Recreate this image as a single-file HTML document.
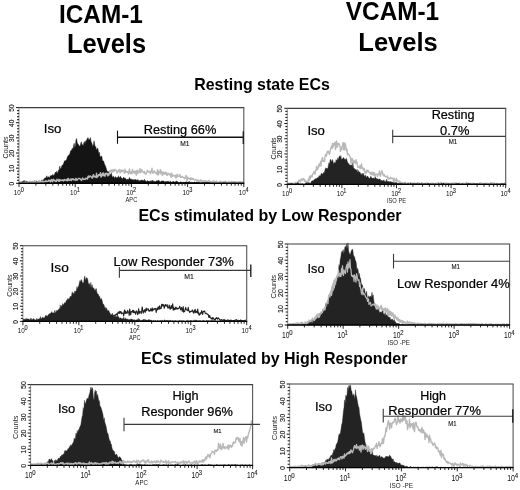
<!DOCTYPE html>
<html><head><meta charset="utf-8"><style>
html,body{margin:0;padding:0;background:#fff;}
body{width:520px;height:490px;overflow:hidden;}
svg{display:block;font-family:"Liberation Sans", sans-serif;filter:grayscale(1) blur(0.3px);}
</style></head><body>
<svg width="520" height="490" viewBox="0 0 520 490">
<rect width="520" height="490" fill="#fff"/>
<text transform="translate(58.97,22.50) scale(1,1.086)" font-size="24.36" font-weight="bold" fill="#000" >ICAM-1</text>
<text transform="translate(66.90,53.40) scale(1,1.056)" font-size="25.45" font-weight="bold" fill="#000" >Levels</text>
<text transform="translate(345.83,19.60) scale(1,1.086)" font-size="24.35" font-weight="bold" fill="#000" >VCAM-1</text>
<text transform="translate(358.29,50.60) scale(1,1.035)" font-size="25.55" font-weight="bold" fill="#000" >Levels</text>
<text transform="translate(194.23,89.70) scale(1,1.021)" font-size="15.95" font-weight="bold" fill="#000" >Resting state ECs</text>
<text transform="translate(138.43,220.90) scale(1,1.016)" font-size="16.02" font-weight="bold" fill="#000" >ECs stimulated by Low Responder</text>
<text transform="translate(141.03,363.70) scale(1,1.055)" font-size="15.99" font-weight="bold" fill="#000" >ECs stimulated by High Responder</text>
<path d="M19.00,183.30 L19.00,182.64 L19.60,182.10 L20.20,181.76 L20.80,182.48 L21.40,181.52 L22.00,181.74 L22.60,181.46 L23.20,181.46 L23.80,180.52 L24.40,181.03 L25.00,180.57 L25.60,181.67 L26.20,181.18 L26.80,181.51 L27.40,181.63 L28.00,181.46 L28.60,183.19 L29.20,181.26 L29.80,181.65 L30.40,182.09 L31.00,181.62 L31.60,182.34 L32.20,180.89 L32.80,182.50 L33.40,181.18 L34.00,181.98 L34.60,180.53 L35.20,182.63 L35.80,181.03 L36.40,180.97 L37.00,181.15 L37.60,181.44 L38.20,181.08 L38.80,181.64 L39.40,182.50 L40.00,181.69 L40.60,181.42 L41.20,181.65 L41.80,179.71 L42.40,180.67 L43.00,181.27 L43.60,179.54 L44.20,178.57 L44.80,178.23 L45.40,177.68 L46.00,178.15 L46.60,175.75 L47.20,178.29 L47.80,176.51 L48.40,176.93 L49.00,176.91 L49.60,178.14 L50.20,175.54 L50.80,176.18 L51.40,175.41 L52.00,175.58 L52.60,174.62 L53.20,174.76 L53.80,175.92 L54.40,174.50 L55.00,173.12 L55.60,172.03 L56.20,173.31 L56.80,170.89 L57.40,173.46 L58.00,171.97 L58.60,170.11 L59.20,169.70 L59.80,165.96 L60.40,168.98 L61.00,168.28 L61.60,166.60 L62.20,164.87 L62.80,165.47 L63.40,163.79 L64.00,162.37 L64.60,160.70 L65.20,160.64 L65.80,160.27 L66.40,160.16 L67.00,158.08 L67.60,156.50 L68.20,155.29 L68.80,155.67 L69.40,154.51 L70.00,153.28 L70.60,150.72 L71.20,150.17 L71.80,150.02 L72.40,147.94 L73.00,149.90 L73.60,145.15 L74.20,143.23 L74.80,147.79 L75.40,145.43 L76.00,139.71 L76.60,138.54 L77.20,142.56 L77.80,143.75 L78.40,144.43 L79.00,145.38 L79.60,146.36 L80.20,145.82 L80.80,142.93 L81.40,141.72 L82.00,144.90 L82.60,144.59 L83.20,146.05 L83.80,142.81 L84.40,141.38 L85.00,144.01 L85.60,140.89 L86.20,140.99 L86.80,139.44 L87.40,138.44 L88.00,137.54 L88.60,139.39 L89.20,139.86 L89.80,138.95 L90.40,137.53 L91.00,141.15 L91.60,142.62 L92.20,144.29 L92.80,146.45 L93.40,144.80 L94.00,140.78 L94.60,143.59 L95.20,147.40 L95.80,146.36 L96.40,149.93 L97.00,149.05 L97.60,147.89 L98.20,149.97 L98.80,153.47 L99.40,152.13 L100.00,156.22 L100.60,157.01 L101.20,156.32 L101.80,156.01 L102.40,160.38 L103.00,160.73 L103.60,161.05 L104.20,163.09 L104.80,164.86 L105.40,165.77 L106.00,167.42 L106.60,169.50 L107.20,171.63 L107.80,171.34 L108.40,171.61 L109.00,172.48 L109.60,174.29 L110.20,173.95 L110.80,174.89 L111.40,172.63 L112.00,176.51 L112.60,177.29 L113.20,175.88 L113.80,176.88 L114.40,178.44 L115.00,176.72 L115.60,176.82 L116.20,177.71 L116.80,177.78 L117.40,177.37 L118.00,177.70 L118.60,175.80 L119.20,178.01 L119.80,177.36 L120.40,176.28 L121.00,177.50 L121.60,177.96 L122.20,179.13 L122.80,178.27 L123.40,177.47 L124.00,177.34 L124.60,178.46 L125.20,177.89 L125.80,178.82 L126.40,179.64 L127.00,179.28 L127.60,179.58 L128.20,178.87 L128.80,180.26 L129.40,177.34 L130.00,178.99 L130.60,179.16 L131.20,178.76 L131.80,179.90 L132.40,179.82 L133.00,179.02 L133.60,180.49 L134.20,179.86 L134.80,179.65 L135.40,179.60 L136.00,179.51 L136.60,180.51 L137.20,179.54 L137.80,180.21 L138.40,179.71 L139.00,181.45 L139.60,180.53 L140.20,180.28 L140.80,180.64 L141.40,180.08 L142.00,180.09 L142.60,180.37 L143.20,180.78 L143.80,180.27 L144.40,179.20 L145.00,180.96 L145.60,180.85 L146.20,181.00 L146.80,182.23 L147.40,180.40 L148.00,181.32 L148.60,181.00 L149.20,181.62 L149.80,181.27 L150.40,180.64 L151.00,181.65 L151.60,181.10 L152.20,180.01 L152.80,181.33 L153.40,180.80 L154.00,182.19 L154.60,181.12 L155.20,181.39 L155.80,181.63 L156.40,180.73 L157.00,180.89 L157.60,180.79 L158.20,180.16 L158.80,180.24 L159.40,180.85 L160.00,182.23 L160.60,181.68 L161.20,181.07 L161.80,181.02 L162.40,181.18 L163.00,180.57 L163.60,181.37 L164.20,181.08 L164.80,182.42 L165.40,181.59 L166.00,181.56 L166.60,181.44 L167.20,181.59 L167.80,181.33 L168.40,181.13 L169.00,181.75 L169.60,182.05 L170.20,181.24 L170.80,181.45 L171.40,182.43 L172.00,181.87 L172.60,181.77 L173.20,181.44 L173.80,181.51 L174.40,182.07 L175.00,181.69 L175.60,181.67 L176.20,181.58 L176.80,180.77 L177.40,181.88 L178.00,181.68 L178.60,182.39 L179.20,183.30 L179.80,182.09 L180.40,181.77 L181.00,182.05 L181.60,182.18 L182.20,182.21 L182.80,182.54 L183.40,182.20 L184.00,182.09 L184.60,182.35 L185.20,181.90 L185.80,182.08 L186.40,181.82 L187.00,181.72 L187.60,182.61 L188.20,181.61 L188.80,182.51 L189.40,181.35 L190.00,182.68 L190.60,182.09 L191.20,182.41 L191.80,182.24 L192.40,182.52 L193.00,182.36 L193.60,182.65 L194.20,181.86 L194.80,181.94 L195.40,182.63 L196.00,182.33 L196.60,181.90 L197.20,182.22 L197.80,182.29 L198.40,181.73 L199.00,182.63 L199.60,181.96 L200.20,182.77 L200.80,183.17 L201.40,182.55 L202.00,182.30 L202.60,182.57 L203.20,182.46 L203.80,182.39 L204.40,182.50 L205.00,181.35 L205.60,182.53 L206.20,181.63 L206.80,182.25 L207.40,181.57 L208.00,182.26 L208.60,182.91 L209.20,181.37 L209.80,181.51 L210.40,182.62 L211.00,181.87 L211.60,182.25 L212.20,182.95 L212.80,182.30 L213.40,182.84 L214.00,182.93 L214.60,183.30 L215.20,183.02 L215.80,182.45 L216.40,183.04 L217.00,182.76 L217.60,182.60 L218.20,183.15 L218.80,182.67 L219.40,182.75 L220.00,182.06 L220.60,182.39 L221.20,182.17 L221.80,182.80 L222.40,182.49 L223.00,181.83 L223.60,181.84 L224.20,182.54 L224.80,182.27 L225.40,182.48 L226.00,182.66 L226.60,182.17 L227.20,182.42 L227.80,182.66 L228.40,183.21 L229.00,182.64 L229.60,183.18 L230.20,183.07 L230.80,182.92 L231.40,181.60 L232.00,182.68 L232.60,182.97 L233.20,182.51 L233.80,182.13 L234.40,182.87 L235.00,182.51 L235.60,182.27 L236.20,182.60 L236.80,182.77 L237.40,183.30 L238.00,183.30 L238.60,181.82 L239.20,182.85 L239.80,182.38 L240.40,181.96 L241.00,182.55 L241.60,183.26 L242.20,182.96 L242.80,181.99 L242.80,183.30 Z" fill="#141414" stroke="#141414" stroke-width="0.4"/>
<path d="M19.00,182.02 L19.50,182.26 L20.00,182.85 L20.50,182.80 L21.00,181.93 L21.50,181.75 L22.00,182.87 L22.50,183.30 L23.00,183.23 L23.50,183.07 L24.00,182.33 L24.50,182.32 L25.00,183.30 L25.50,182.09 L26.00,183.24 L26.50,182.76 L27.00,182.64 L27.50,181.93 L28.00,182.08 L28.50,182.97 L29.00,181.94 L29.50,181.57 L30.00,182.09 L30.50,181.29 L31.00,182.71 L31.50,182.00 L32.00,181.46 L32.50,182.43 L33.00,181.89 L33.50,181.95 L34.00,182.95 L34.50,181.59 L35.00,182.31 L35.50,181.59 L36.00,182.61 L36.50,182.59 L37.00,182.33 L37.50,181.79 L38.00,182.48 L38.50,182.15 L39.00,180.67 L39.50,180.63 L40.00,182.87 L40.50,181.66 L41.00,181.15 L41.50,182.10 L42.00,181.47 L42.50,181.63 L43.00,182.38 L43.50,183.30 L44.00,181.34 L44.50,181.38 L45.00,181.48 L45.50,181.74 L46.00,180.53 L46.50,181.75 L47.00,181.41 L47.50,181.35 L48.00,181.46 L48.50,180.11 L49.00,180.76 L49.50,181.09 L50.00,180.22 L50.50,182.23 L51.00,180.58 L51.50,179.49 L52.00,179.86 L52.50,181.97 L53.00,180.56 L53.50,179.24 L54.00,180.60 L54.50,180.49 L55.00,180.24 L55.50,181.71 L56.00,181.33 L56.50,181.42 L57.00,179.21 L57.50,180.31 L58.00,180.24 L58.50,181.24 L59.00,179.32 L59.50,181.18 L60.00,179.84 L60.50,180.55 L61.00,180.09 L61.50,180.50 L62.00,180.11 L62.50,179.86 L63.00,180.69 L63.50,181.01 L64.00,179.69 L64.50,179.51 L65.00,180.30 L65.50,180.07 L66.00,179.73 L66.50,180.44 L67.00,180.78 L67.50,178.69 L68.00,180.55 L68.50,178.36 L69.00,180.08 L69.50,180.31 L70.00,180.19 L70.50,179.53 L71.00,178.83 L71.50,180.60 L72.00,179.12 L72.50,179.31 L73.00,178.81 L73.50,179.50 L74.00,179.94 L74.50,179.50 L75.00,179.41 L75.50,180.23 L76.00,178.31 L76.50,179.69 L77.00,180.29 L77.50,179.49 L78.00,179.03 L78.50,178.42 L79.00,178.43 L79.50,178.46 L80.00,178.95 L80.50,179.23 L81.00,179.81 L81.50,180.51 L82.00,179.54 L82.50,178.06 L83.00,178.58 L83.50,179.35 L84.00,179.47 L84.50,179.24 L85.00,178.89 L85.50,179.30 L86.00,178.04 L86.50,178.47 L87.00,178.42 L87.50,179.12 L88.00,176.46 L88.50,175.95 L89.00,177.43 L89.50,176.24 L90.00,176.22 L90.50,176.04 L91.00,176.47 L91.50,177.72 L92.00,177.37 L92.50,178.04 L93.00,175.60 L93.50,174.70 L94.00,176.50 L94.50,176.75 L95.00,176.50 L95.50,176.90 L96.00,177.50 L96.50,173.23 L97.00,177.51 L97.50,175.93 L98.00,176.53 L98.50,174.78 L99.00,175.26 L99.50,174.36 L100.00,175.47 L100.50,172.60 L101.00,177.17 L101.50,176.07 L102.00,174.80 L102.50,173.34 L103.00,175.81 L103.50,172.97 L104.00,175.36 L104.50,174.29 L105.00,176.46 L105.50,173.77 L106.00,173.17 L106.50,173.95 L107.00,173.25 L107.50,175.55 L108.00,175.84 L108.50,173.78 L109.00,175.11 L109.50,172.04 L110.00,170.43 L110.50,170.65 L111.00,171.38 L111.50,172.61 L112.00,169.37 L112.50,171.70 L113.00,171.31 L113.50,169.94 L114.00,171.70 L114.50,169.83 L115.00,169.29 L115.50,170.09 L116.00,170.19 L116.50,171.16 L117.00,172.98 L117.50,171.88 L118.00,170.90 L118.50,171.31 L119.00,169.47 L119.50,169.57 L120.00,172.65 L120.50,172.44 L121.00,169.97 L121.50,170.36 L122.00,171.76 L122.50,170.83 L123.00,170.08 L123.50,170.93 L124.00,171.44 L124.50,173.21 L125.00,169.13 L125.50,172.21 L126.00,172.21 L126.50,171.46 L127.00,171.40 L127.50,172.50 L128.00,171.68 L128.50,174.12 L129.00,170.93 L129.50,168.99 L130.00,172.75 L130.50,173.54 L131.00,173.44 L131.50,171.53 L132.00,173.81 L132.50,169.55 L133.00,172.23 L133.50,172.54 L134.00,171.28 L134.50,173.05 L135.00,170.93 L135.50,173.72 L136.00,171.38 L136.50,175.12 L137.00,170.28 L137.50,173.28 L138.00,170.35 L138.50,172.68 L139.00,172.34 L139.50,172.32 L140.00,168.56 L140.50,172.66 L141.00,172.46 L141.50,169.71 L142.00,170.47 L142.50,171.20 L143.00,172.14 L143.50,172.52 L144.00,172.92 L144.50,171.52 L145.00,173.81 L145.50,173.77 L146.00,174.12 L146.50,172.69 L147.00,171.44 L147.50,170.10 L148.00,171.78 L148.50,172.02 L149.00,172.01 L149.50,172.41 L150.00,171.13 L150.50,173.73 L151.00,171.30 L151.50,170.54 L152.00,168.10 L152.50,173.09 L153.00,172.93 L153.50,172.66 L154.00,171.46 L154.50,170.79 L155.00,172.59 L155.50,172.74 L156.00,173.17 L156.50,172.81 L157.00,174.68 L157.50,169.69 L158.00,172.18 L158.50,174.92 L159.00,171.21 L159.50,172.74 L160.00,172.90 L160.50,169.58 L161.00,173.89 L161.50,171.67 L162.00,172.69 L162.50,175.38 L163.00,171.86 L163.50,174.03 L164.00,172.48 L164.50,173.92 L165.00,174.51 L165.50,172.31 L166.00,172.68 L166.50,172.62 L167.00,175.42 L167.50,175.30 L168.00,173.48 L168.50,173.34 L169.00,173.77 L169.50,174.93 L170.00,173.98 L170.50,175.01 L171.00,177.41 L171.50,173.06 L172.00,174.17 L172.50,176.32 L173.00,175.56 L173.50,175.26 L174.00,175.82 L174.50,175.46 L175.00,176.15 L175.50,177.68 L176.00,174.89 L176.50,178.01 L177.00,176.57 L177.50,174.17 L178.00,176.37 L178.50,176.33 L179.00,176.14 L179.50,176.38 L180.00,174.50 L180.50,177.10 L181.00,177.40 L181.50,176.76 L182.00,177.14 L182.50,176.28 L183.00,177.50 L183.50,177.59 L184.00,177.65 L184.50,178.81 L185.00,178.54 L185.50,177.09 L186.00,175.48 L186.50,176.29 L187.00,180.53 L187.50,178.86 L188.00,177.11 L188.50,178.72 L189.00,178.40 L189.50,178.70 L190.00,179.55 L190.50,177.61 L191.00,179.55 L191.50,178.28 L192.00,178.91 L192.50,179.54 L193.00,178.32 L193.50,178.97 L194.00,179.54 L194.50,179.60 L195.00,180.14 L195.50,179.56 L196.00,179.79 L196.50,180.41 L197.00,181.22 L197.50,180.46 L198.00,179.92 L198.50,180.52 L199.00,181.30 L199.50,180.68 L200.00,182.11 L200.50,179.61 L201.00,180.78 L201.50,180.93 L202.00,181.76 L202.50,180.65 L203.00,180.79 L203.50,181.39 L204.00,181.76 L204.50,181.27 L205.00,180.80 L205.50,180.76 L206.00,181.69 L206.50,180.87 L207.00,181.79 L207.50,181.45 L208.00,181.09 L208.50,180.78 L209.00,180.35 L209.50,181.91 L210.00,181.28 L210.50,181.50 L211.00,182.29 L211.50,181.72 L212.00,182.28 L212.50,181.41 L213.00,181.05 L213.50,181.84 L214.00,181.14 L214.50,181.05 L215.00,182.46 L215.50,181.77 L216.00,182.16 L216.50,180.96 L217.00,182.15 L217.50,182.45 L218.00,182.44 L218.50,182.07 L219.00,182.31 L219.50,181.57 L220.00,182.56 L220.50,181.70 L221.00,181.17 L221.50,182.84 L222.00,183.11 L222.50,183.25 L223.00,181.85 L223.50,181.50 L224.00,181.42 L224.50,181.39 L225.00,181.94 L225.50,181.21 L226.00,182.16 L226.50,181.71 L227.00,182.85 L227.50,183.16 L228.00,182.53 L228.50,181.92 L229.00,181.41 L229.50,181.95 L230.00,183.30 L230.50,182.85 L231.00,181.69 L231.50,181.31 L232.00,182.37 L232.50,182.31 L233.00,181.64 L233.50,181.80 L234.00,181.84 L234.50,181.93 L235.00,181.61 L235.50,181.94 L236.00,182.66 L236.50,182.18 L237.00,182.05 L237.50,182.46 L238.00,182.01 L238.50,182.51 L239.00,182.55 L239.50,181.64 L240.00,182.22 L240.50,182.99 L241.00,181.62 L241.50,182.32 L242.00,183.30 L242.50,182.47 L243.00,181.75" fill="none" stroke="#b8b8b8" stroke-width="1.4" stroke-linejoin="round"/>
<path d="M287.50,184.22 L288.00,183.06 L288.50,184.11 L289.00,183.38 L289.50,183.16 L290.00,183.82 L290.50,183.20 L291.00,183.26 L291.50,183.40 L292.00,184.00 L292.50,183.44 L293.00,183.65 L293.50,182.95 L294.00,183.50 L294.50,183.98 L295.00,184.25 L295.50,182.54 L296.00,182.93 L296.50,182.84 L297.00,182.58 L297.50,182.06 L298.00,183.13 L298.50,181.18 L299.00,180.05 L299.50,181.82 L300.00,180.81 L300.50,181.72 L301.00,179.58 L301.50,179.10 L302.00,180.47 L302.50,179.95 L303.00,178.52 L303.50,179.17 L304.00,179.04 L304.50,181.31 L305.00,179.99 L305.50,181.74 L306.00,181.30 L306.50,181.83 L307.00,182.16 L307.50,182.79 L308.00,180.54 L308.50,179.02 L309.00,180.71 L309.50,176.26 L310.00,178.97 L310.50,177.69 L311.00,175.64 L311.50,175.82 L312.00,177.09 L312.50,174.11 L313.00,173.71 L313.50,173.08 L314.00,171.61 L314.50,173.01 L315.00,174.16 L315.50,170.13 L316.00,170.42 L316.50,166.57 L317.00,169.75 L317.50,169.16 L318.00,168.81 L318.50,164.78 L319.00,166.79 L319.50,163.97 L320.00,164.80 L320.50,161.77 L321.00,166.07 L321.50,160.03 L322.00,160.59 L322.50,157.41 L323.00,161.33 L323.50,160.57 L324.00,161.30 L324.50,161.35 L325.00,156.76 L325.50,154.80 L326.00,154.34 L326.50,155.92 L327.00,151.90 L327.50,152.68 L328.00,150.88 L328.50,151.90 L329.00,153.63 L329.50,154.23 L330.00,151.69 L330.50,149.23 L331.00,148.03 L331.50,146.05 L332.00,148.51 L332.50,143.22 L333.00,147.42 L333.50,143.60 L334.00,144.83 L334.50,144.91 L335.00,142.18 L335.50,149.51 L336.00,146.72 L336.50,140.95 L337.00,144.00 L337.50,147.13 L338.00,143.49 L338.50,144.26 L339.00,143.83 L339.50,144.30 L340.00,146.57 L340.50,151.36 L341.00,148.96 L341.50,149.53 L342.00,146.28 L342.50,145.75 L343.00,142.64 L343.50,149.89 L344.00,142.98 L344.50,149.90 L345.00,143.18 L345.50,144.88 L346.00,147.48 L346.50,151.00 L347.00,149.29 L347.50,154.85 L348.00,153.94 L348.50,154.11 L349.00,154.77 L349.50,155.76 L350.00,156.51 L350.50,158.22 L351.00,163.72 L351.50,158.88 L352.00,158.42 L352.50,158.96 L353.00,161.64 L353.50,160.53 L354.00,162.40 L354.50,161.86 L355.00,161.08 L355.50,163.63 L356.00,159.77 L356.50,162.56 L357.00,162.11 L357.50,166.02 L358.00,167.52 L358.50,167.04 L359.00,167.19 L359.50,167.96 L360.00,165.36 L360.50,168.63 L361.00,168.23 L361.50,164.00 L362.00,167.28 L362.50,168.62 L363.00,168.21 L363.50,170.06 L364.00,168.31 L364.50,170.24 L365.00,172.65 L365.50,172.31 L366.00,173.64 L366.50,170.25 L367.00,171.26 L367.50,171.74 L368.00,170.06 L368.50,171.94 L369.00,172.05 L369.50,171.97 L370.00,172.86 L370.50,174.41 L371.00,172.35 L371.50,173.09 L372.00,174.88 L372.50,172.22 L373.00,174.02 L373.50,175.14 L374.00,172.38 L374.50,173.54 L375.00,176.65 L375.50,174.56 L376.00,173.85 L376.50,174.07 L377.00,174.24 L377.50,176.63 L378.00,175.13 L378.50,173.86 L379.00,174.13 L379.50,170.93 L380.00,174.96 L380.50,176.25 L381.00,173.21 L381.50,172.06 L382.00,170.57 L382.50,172.48 L383.00,174.92 L383.50,174.47 L384.00,175.99 L384.50,174.65 L385.00,175.85 L385.50,176.75 L386.00,176.87 L386.50,176.56 L387.00,176.96 L387.50,175.98 L388.00,179.08 L388.50,177.86 L389.00,178.85 L389.50,178.83 L390.00,178.89 L390.50,177.28 L391.00,178.41 L391.50,178.21 L392.00,178.26 L392.50,178.47 L393.00,178.33 L393.50,181.36 L394.00,178.21 L394.50,179.51 L395.00,181.07 L395.50,180.43 L396.00,179.86 L396.50,178.10 L397.00,181.47 L397.50,180.75 L398.00,181.33 L398.50,181.25 L399.00,181.27 L399.50,181.77 L400.00,181.47 L400.50,182.91 L401.00,182.50 L401.50,182.46 L402.00,183.00 L402.50,183.01 L403.00,183.34 L403.50,182.59 L404.00,182.96 L404.50,182.62 L405.00,183.26 L405.50,182.33 L406.00,183.64 L406.50,183.14 L407.00,183.14 L407.50,183.43 L408.00,182.92 L408.50,184.35 L409.00,183.32 L409.50,183.04 L410.00,183.17 L410.50,183.82 L411.00,182.87 L411.50,183.44 L412.00,183.17 L412.50,183.13 L413.00,184.06 L413.50,184.11 L414.00,183.30 L414.50,182.90 L415.00,184.05 L415.50,184.26 L416.00,183.55 L416.50,183.62 L417.00,183.74 L417.50,182.65 L418.00,183.68 L418.50,183.31 L419.00,183.22 L419.50,184.08 L420.00,183.35 L420.50,183.90 L421.00,183.85 L421.50,182.69 L422.00,182.93 L422.50,183.88 L423.00,183.69 L423.50,183.46 L424.00,184.05 L424.50,183.79 L425.00,183.26 L425.50,183.64 L426.00,184.10 L426.50,183.16 L427.00,183.93 L427.50,182.95 L428.00,183.32 L428.50,183.92 L429.00,183.96 L429.50,183.33 L430.00,183.93 L430.50,184.23 L431.00,183.37 L431.50,183.39 L432.00,183.23 L432.50,183.07 L433.00,183.15 L433.50,183.99 L434.00,183.67 L434.50,184.40 L435.00,183.43 L435.50,183.87 L436.00,183.65 L436.50,183.29 L437.00,183.12 L437.50,183.24 L438.00,183.52 L438.50,182.74 L439.00,183.17 L439.50,183.68 L440.00,183.60 L440.50,182.93 L441.00,182.59 L441.50,183.67 L442.00,183.93 L442.50,183.33 L443.00,184.01 L443.50,183.26 L444.00,183.98 L444.50,182.88 L445.00,183.31 L445.50,183.86 L446.00,184.00 L446.50,183.20 L447.00,184.07 L447.50,183.28 L448.00,183.69 L448.50,183.56 L449.00,183.79 L449.50,183.15 L450.00,184.23 L450.50,184.15 L451.00,183.78 L451.50,183.29 L452.00,183.43 L452.50,184.04 L453.00,182.98 L453.50,183.89 L454.00,183.26 L454.50,182.97 L455.00,184.03 L455.50,183.86 L456.00,182.85 L456.50,183.96 L457.00,183.98 L457.50,184.02 L458.00,183.73 L458.50,183.58 L459.00,183.10 L459.50,183.67 L460.00,183.40 L460.50,183.56 L461.00,183.84 L461.50,183.83 L462.00,183.43 L462.50,183.70 L463.00,183.45 L463.50,183.73 L464.00,183.22 L464.50,183.82 L465.00,184.32 L465.50,183.24 L466.00,183.57 L466.50,182.46 L467.00,183.87 L467.50,184.36 L468.00,182.96 L468.50,184.18 L469.00,184.40 L469.50,183.61 L470.00,183.75 L470.50,183.10 L471.00,184.40 L471.50,184.00 L472.00,183.29 L472.50,183.27 L473.00,183.31 L473.50,184.01 L474.00,183.55 L474.50,184.40 L475.00,184.11 L475.50,183.78 L476.00,183.70 L476.50,184.23 L477.00,183.88 L477.50,183.97 L478.00,183.73 L478.50,183.66 L479.00,183.21 L479.50,183.40 L480.00,183.02 L480.50,183.07 L481.00,182.77 L481.50,184.05 L482.00,184.10 L482.50,183.79 L483.00,183.49 L483.50,183.47 L484.00,183.44 L484.50,184.21 L485.00,183.16 L485.50,184.09 L486.00,183.93 L486.50,183.14 L487.00,183.29 L487.50,184.24 L488.00,184.04 L488.50,183.49 L489.00,183.46 L489.50,183.38 L490.00,184.05 L490.50,183.71 L491.00,182.57 L491.50,184.04 L492.00,183.77 L492.50,182.88 L493.00,184.14 L493.50,183.71 L494.00,183.70 L494.50,182.84 L495.00,183.95 L495.50,183.86 L496.00,184.28 L496.50,184.28 L497.00,183.32 L497.50,184.40 L498.00,183.76 L498.50,183.80 L499.00,184.16 L499.50,183.69 L500.00,184.01 L500.50,184.26 L501.00,183.35 L501.50,183.47 L502.00,183.83 L502.50,184.19 L503.00,183.97 L503.50,183.82 L504.00,183.70 L504.50,183.12 L505.00,183.68" fill="none" stroke="#b8b8b8" stroke-width="1.4" stroke-linejoin="round"/>
<path d="M287.50,184.40 L287.50,183.43 L288.10,183.49 L288.70,183.73 L289.30,183.83 L289.90,183.86 L290.50,183.55 L291.10,183.87 L291.70,182.96 L292.30,183.85 L292.90,183.75 L293.50,184.27 L294.10,183.57 L294.70,184.40 L295.30,183.65 L295.90,183.60 L296.50,183.58 L297.10,183.00 L297.70,182.75 L298.30,182.79 L298.90,183.57 L299.50,183.91 L300.10,183.68 L300.70,183.74 L301.30,183.74 L301.90,183.77 L302.50,183.39 L303.10,184.40 L303.70,184.12 L304.30,184.17 L304.90,183.87 L305.50,183.31 L306.10,182.55 L306.70,183.06 L307.30,182.54 L307.90,183.69 L308.50,182.55 L309.10,182.69 L309.70,183.04 L310.30,183.51 L310.90,182.58 L311.50,181.21 L312.10,180.63 L312.70,180.87 L313.30,180.54 L313.90,180.52 L314.50,179.25 L315.10,178.86 L315.70,178.78 L316.30,178.65 L316.90,177.93 L317.50,177.81 L318.10,177.57 L318.70,177.08 L319.30,175.47 L319.90,176.38 L320.50,175.39 L321.10,173.92 L321.70,172.94 L322.30,174.09 L322.90,174.25 L323.50,172.57 L324.10,172.88 L324.70,170.96 L325.30,168.87 L325.90,167.80 L326.50,168.44 L327.10,168.05 L327.70,169.13 L328.30,165.92 L328.90,162.74 L329.50,164.57 L330.10,160.07 L330.70,159.16 L331.30,162.00 L331.90,160.44 L332.50,159.55 L333.10,161.76 L333.70,164.33 L334.30,162.60 L334.90,162.53 L335.50,162.90 L336.10,159.62 L336.70,160.81 L337.30,159.91 L337.90,157.68 L338.50,159.75 L339.10,156.58 L339.70,156.11 L340.30,157.44 L340.90,155.44 L341.50,160.07 L342.10,158.77 L342.70,158.91 L343.30,157.60 L343.90,158.00 L344.50,159.16 L345.10,159.04 L345.70,159.65 L346.30,158.23 L346.90,160.07 L347.50,161.97 L348.10,162.92 L348.70,163.63 L349.30,164.93 L349.90,164.56 L350.50,165.79 L351.10,164.87 L351.70,165.11 L352.30,166.70 L352.90,162.36 L353.50,168.11 L354.10,168.36 L354.70,168.76 L355.30,169.44 L355.90,169.48 L356.50,170.78 L357.10,169.35 L357.70,172.78 L358.30,170.39 L358.90,172.04 L359.50,172.10 L360.10,172.37 L360.70,173.67 L361.30,175.23 L361.90,173.38 L362.50,173.48 L363.10,175.32 L363.70,173.18 L364.30,176.24 L364.90,175.90 L365.50,175.07 L366.10,177.25 L366.70,177.01 L367.30,176.12 L367.90,176.23 L368.50,177.54 L369.10,178.33 L369.70,178.52 L370.30,177.19 L370.90,176.28 L371.50,177.55 L372.10,178.19 L372.70,178.35 L373.30,178.11 L373.90,178.29 L374.50,178.77 L375.10,176.98 L375.70,177.42 L376.30,178.74 L376.90,178.56 L377.50,178.87 L378.10,179.57 L378.70,179.16 L379.30,179.07 L379.90,178.93 L380.50,179.52 L381.10,181.21 L381.70,180.06 L382.30,180.90 L382.90,180.43 L383.50,180.24 L384.10,180.32 L384.70,181.33 L385.30,181.77 L385.90,181.57 L386.50,179.26 L387.10,181.38 L387.70,181.24 L388.30,181.33 L388.90,181.70 L389.50,181.74 L390.10,181.76 L390.70,181.38 L391.30,182.24 L391.90,181.74 L392.50,182.33 L393.10,182.39 L393.70,182.55 L394.30,182.69 L394.90,182.59 L395.50,182.72 L396.10,182.12 L396.70,183.09 L397.30,183.09 L397.90,184.06 L398.50,183.07 L399.10,182.68 L399.70,183.43 L400.30,183.60 L400.90,183.03 L401.50,183.49 L402.10,183.31 L402.70,183.80 L403.30,184.00 L403.90,183.56 L404.50,183.52 L405.10,183.75 L405.70,183.55 L406.30,183.95 L406.90,183.88 L407.50,183.69 L408.10,183.21 L408.70,183.54 L409.30,184.40 L409.90,184.04 L410.50,182.83 L411.10,183.39 L411.70,184.22 L412.30,184.05 L412.90,183.19 L413.50,183.56 L414.10,183.46 L414.70,183.87 L415.30,183.63 L415.90,183.57 L416.50,183.78 L417.10,183.75 L417.70,183.26 L418.30,184.33 L418.90,183.93 L419.50,183.14 L420.10,183.90 L420.70,183.82 L421.30,183.38 L421.90,184.16 L422.50,183.82 L423.10,183.88 L423.70,183.83 L424.30,183.82 L424.90,183.59 L425.50,183.75 L426.10,183.70 L426.70,184.03 L427.30,183.59 L427.90,184.11 L428.50,183.09 L429.10,184.18 L429.70,184.18 L430.30,183.62 L430.90,183.78 L431.50,184.28 L432.10,183.61 L432.70,184.26 L433.30,183.79 L433.90,184.10 L434.50,183.94 L435.10,183.64 L435.70,184.04 L436.30,184.29 L436.90,183.80 L437.50,184.27 L438.10,183.68 L438.70,183.61 L439.30,183.73 L439.90,184.31 L440.50,184.20 L441.10,183.52 L441.70,183.08 L442.30,183.78 L442.90,183.72 L443.50,183.08 L444.10,183.39 L444.70,184.40 L445.30,183.69 L445.90,184.21 L446.50,184.40 L447.10,183.55 L447.70,184.20 L448.30,183.69 L448.90,183.46 L449.50,184.40 L450.10,183.89 L450.70,183.71 L451.30,184.06 L451.90,183.77 L452.50,183.95 L453.10,184.09 L453.70,184.10 L454.30,183.96 L454.90,183.99 L455.50,183.85 L456.10,183.69 L456.70,183.18 L457.30,184.18 L457.90,183.07 L458.50,183.75 L459.10,183.47 L459.70,183.99 L460.30,184.40 L460.90,183.94 L461.50,184.20 L462.10,183.34 L462.70,184.18 L463.30,184.05 L463.90,184.14 L464.50,184.02 L465.10,183.92 L465.70,184.37 L466.30,183.56 L466.90,184.02 L467.50,184.23 L468.10,183.06 L468.70,183.83 L469.30,183.15 L469.90,183.97 L470.50,183.95 L471.10,184.16 L471.70,183.78 L472.30,184.07 L472.90,184.40 L473.50,183.87 L474.10,183.27 L474.70,183.85 L475.30,184.13 L475.90,183.75 L476.50,183.82 L477.10,183.54 L477.70,183.87 L478.30,184.08 L478.90,184.33 L479.50,183.78 L480.10,184.03 L480.70,184.10 L481.30,184.40 L481.90,184.29 L482.50,183.74 L483.10,183.86 L483.70,184.15 L484.30,183.85 L484.90,183.93 L485.50,183.78 L486.10,184.03 L486.70,184.15 L487.30,184.19 L487.90,184.01 L488.50,183.98 L489.10,184.21 L489.70,184.36 L490.30,183.87 L490.90,184.40 L491.50,183.67 L492.10,184.18 L492.70,184.40 L493.30,184.32 L493.90,184.06 L494.50,183.77 L495.10,184.05 L495.70,184.26 L496.30,184.06 L496.90,183.55 L497.50,184.01 L498.10,184.40 L498.70,183.95 L499.30,184.21 L499.90,184.40 L500.50,183.98 L501.10,183.79 L501.70,184.08 L502.30,183.26 L502.90,184.40 L503.50,184.20 L504.10,183.20 L504.70,184.40 L504.70,184.40 Z" fill="#232323" stroke="#232323" stroke-width="0.4"/>
<path d="M23.00,321.40 L23.00,319.31 L23.60,319.02 L24.20,319.19 L24.80,319.22 L25.40,319.60 L26.00,318.31 L26.60,319.13 L27.20,318.97 L27.80,318.73 L28.40,319.26 L29.00,318.79 L29.60,319.77 L30.20,320.11 L30.80,317.97 L31.40,318.83 L32.00,320.21 L32.60,319.16 L33.20,318.65 L33.80,318.64 L34.40,319.42 L35.00,319.65 L35.60,319.88 L36.20,320.03 L36.80,318.34 L37.40,319.47 L38.00,319.25 L38.60,319.10 L39.20,318.75 L39.80,318.72 L40.40,316.51 L41.00,319.22 L41.60,318.16 L42.20,317.45 L42.80,317.33 L43.40,317.72 L44.00,317.86 L44.60,317.91 L45.20,316.22 L45.80,315.13 L46.40,315.95 L47.00,315.61 L47.60,316.48 L48.20,314.96 L48.80,314.32 L49.40,313.57 L50.00,314.27 L50.60,313.02 L51.20,312.87 L51.80,311.48 L52.40,313.06 L53.00,312.99 L53.60,312.85 L54.20,313.35 L54.80,310.17 L55.40,312.47 L56.00,312.41 L56.60,310.27 L57.20,310.64 L57.80,310.28 L58.40,309.84 L59.00,308.72 L59.60,309.19 L60.20,304.91 L60.80,308.50 L61.40,305.47 L62.00,306.43 L62.60,303.57 L63.20,304.38 L63.80,304.69 L64.40,302.83 L65.00,302.52 L65.60,302.90 L66.20,300.75 L66.80,299.95 L67.40,299.40 L68.00,298.29 L68.60,299.40 L69.20,298.54 L69.80,297.39 L70.40,296.01 L71.00,296.88 L71.60,295.59 L72.20,291.74 L72.80,293.58 L73.40,293.08 L74.00,294.41 L74.60,291.14 L75.20,291.25 L75.80,291.79 L76.40,290.00 L77.00,286.53 L77.60,289.30 L78.20,286.84 L78.80,285.60 L79.40,282.48 L80.00,280.46 L80.60,282.06 L81.20,279.46 L81.80,280.43 L82.40,283.14 L83.00,282.20 L83.60,283.86 L84.20,278.01 L84.80,276.02 L85.40,280.24 L86.00,278.67 L86.60,277.56 L87.20,278.03 L87.80,279.68 L88.40,283.53 L89.00,284.18 L89.60,283.39 L90.20,287.68 L90.80,282.36 L91.40,288.02 L92.00,284.56 L92.60,286.96 L93.20,288.47 L93.80,287.76 L94.40,290.56 L95.00,288.86 L95.60,291.23 L96.20,288.39 L96.80,291.99 L97.40,293.82 L98.00,294.09 L98.60,294.70 L99.20,296.80 L99.80,296.48 L100.40,299.22 L101.00,299.10 L101.60,298.58 L102.20,300.92 L102.80,303.45 L103.40,304.54 L104.00,304.61 L104.60,307.41 L105.20,307.09 L105.80,309.41 L106.40,307.66 L107.00,309.34 L107.60,311.03 L108.20,310.64 L108.80,310.28 L109.40,312.47 L110.00,312.83 L110.60,314.74 L111.20,314.91 L111.80,314.07 L112.40,313.18 L113.00,315.36 L113.60,316.79 L114.20,314.75 L114.80,317.17 L115.40,315.20 L116.00,317.39 L116.60,316.29 L117.20,316.51 L117.80,315.64 L118.40,316.63 L119.00,317.23 L119.60,318.90 L120.20,317.83 L120.80,318.00 L121.40,318.38 L122.00,318.63 L122.60,318.50 L123.20,318.65 L123.80,317.09 L124.40,319.11 L125.00,319.21 L125.60,317.85 L126.20,319.22 L126.80,319.00 L127.40,319.16 L128.00,319.00 L128.60,319.86 L129.20,319.70 L129.80,319.21 L130.40,319.85 L131.00,318.64 L131.60,319.37 L132.20,319.09 L132.80,320.01 L133.40,319.85 L134.00,320.19 L134.60,319.47 L135.20,320.46 L135.80,320.05 L136.40,319.79 L137.00,319.97 L137.60,319.76 L138.20,318.38 L138.80,320.12 L139.40,318.91 L140.00,320.05 L140.60,320.71 L141.20,320.48 L141.80,320.35 L142.40,320.01 L143.00,320.23 L143.60,319.12 L144.20,320.98 L144.80,319.06 L145.40,319.89 L146.00,320.11 L146.60,320.11 L147.20,320.48 L147.80,319.98 L148.40,319.69 L149.00,319.77 L149.60,319.66 L150.20,320.41 L150.80,320.10 L151.40,320.32 L152.00,320.07 L152.60,321.40 L153.20,320.76 L153.80,320.22 L154.40,320.71 L155.00,321.11 L155.60,320.31 L156.20,321.00 L156.80,321.40 L157.40,320.26 L158.00,320.41 L158.60,321.07 L159.20,320.89 L159.80,320.47 L160.40,320.41 L161.00,320.51 L161.60,321.01 L162.20,319.92 L162.80,321.01 L163.40,321.15 L164.00,320.32 L164.60,319.81 L165.20,320.41 L165.80,320.39 L166.40,320.66 L167.00,320.58 L167.60,319.93 L168.20,320.70 L168.80,320.72 L169.40,320.36 L170.00,320.63 L170.60,320.58 L171.20,320.95 L171.80,320.77 L172.40,320.47 L173.00,320.80 L173.60,321.09 L174.20,320.98 L174.80,320.64 L175.40,320.70 L176.00,320.52 L176.60,321.21 L177.20,320.80 L177.80,321.23 L178.40,321.26 L179.00,320.40 L179.60,320.77 L180.20,320.62 L180.80,321.07 L181.40,320.54 L182.00,321.14 L182.60,320.99 L183.20,320.28 L183.80,321.40 L184.40,321.11 L185.00,321.06 L185.60,321.40 L186.20,320.87 L186.80,320.72 L187.40,320.15 L188.00,320.63 L188.60,320.86 L189.20,320.93 L189.80,320.80 L190.40,320.68 L191.00,320.03 L191.60,320.99 L192.20,321.20 L192.80,320.77 L193.40,321.16 L194.00,319.73 L194.60,320.91 L195.20,320.44 L195.80,319.96 L196.40,320.43 L197.00,319.99 L197.60,321.40 L198.20,320.57 L198.80,320.97 L199.40,320.57 L200.00,321.06 L200.60,320.61 L201.20,321.03 L201.80,321.27 L202.40,321.40 L203.00,320.02 L203.60,320.66 L204.20,320.58 L204.80,321.30 L205.40,320.78 L206.00,321.40 L206.60,320.21 L207.20,320.41 L207.80,320.95 L208.40,320.57 L209.00,320.81 L209.60,321.02 L210.20,320.62 L210.80,321.02 L211.40,320.26 L212.00,320.70 L212.60,320.59 L213.20,321.37 L213.80,320.19 L214.40,321.09 L215.00,321.40 L215.60,320.70 L216.20,321.29 L216.80,321.38 L217.40,321.12 L218.00,320.79 L218.60,321.17 L219.20,321.37 L219.80,320.87 L220.40,320.94 L221.00,321.11 L221.60,320.74 L222.20,320.79 L222.80,320.74 L223.40,321.27 L224.00,321.40 L224.60,320.26 L225.20,320.89 L225.80,321.40 L226.40,320.17 L227.00,321.15 L227.60,320.98 L228.20,320.11 L228.80,320.84 L229.40,321.05 L230.00,320.67 L230.60,320.96 L231.20,321.20 L231.80,321.10 L232.40,321.18 L233.00,321.40 L233.60,321.40 L234.20,321.18 L234.80,321.04 L235.40,321.40 L236.00,320.45 L236.60,320.79 L237.20,321.34 L237.80,321.14 L238.40,321.08 L239.00,321.04 L239.60,321.30 L240.20,320.22 L240.80,320.98 L241.40,321.05 L242.00,320.83 L242.60,321.00 L243.20,320.87 L243.80,321.33 L244.40,321.14 L245.00,320.88 L245.60,320.82 L245.60,321.40 Z" fill="#232323" stroke="#232323" stroke-width="0.4"/>
<path d="M108.70,317.62 L109.20,316.71 L109.70,315.21 L110.20,317.54 L110.70,316.68 L111.20,317.81 L111.70,315.93 L112.20,315.67 L112.70,317.25 L113.20,316.10 L113.70,315.87 L114.20,315.61 L114.70,315.40 L115.20,314.89 L115.70,314.87 L116.20,314.11 L116.70,313.80 L117.20,315.46 L117.70,313.51 L118.20,311.93 L118.70,312.99 L119.20,313.47 L119.70,311.30 L120.20,313.22 L120.70,311.45 L121.20,311.83 L121.70,313.75 L122.20,313.01 L122.70,313.06 L123.20,313.30 L123.70,316.04 L124.20,311.29 L124.70,309.93 L125.20,313.67 L125.70,311.27 L126.20,313.11 L126.70,312.31 L127.20,313.16 L127.70,310.35 L128.20,311.87 L128.70,312.33 L129.20,315.41 L129.70,309.07 L130.20,312.15 L130.70,314.80 L131.20,311.57 L131.70,311.82 L132.20,311.67 L132.70,310.40 L133.20,312.81 L133.70,310.37 L134.20,312.66 L134.70,311.78 L135.20,312.41 L135.70,314.29 L136.20,310.82 L136.70,311.37 L137.20,312.44 L137.70,314.74 L138.20,311.77 L138.70,308.71 L139.20,313.73 L139.70,311.45 L140.20,311.58 L140.70,312.04 L141.20,313.57 L141.70,310.88 L142.20,306.94 L142.70,310.36 L143.20,313.10 L143.70,311.73 L144.20,310.13 L144.70,309.71 L145.20,312.39 L145.70,310.30 L146.20,308.05 L146.70,310.66 L147.20,309.17 L147.70,309.23 L148.20,308.75 L148.70,310.94 L149.20,310.35 L149.70,311.19 L150.20,310.80 L150.70,308.70 L151.20,309.89 L151.70,310.90 L152.20,307.80 L152.70,310.91 L153.20,309.18 L153.70,309.74 L154.20,308.64 L154.70,309.08 L155.20,308.33 L155.70,309.08 L156.20,312.35 L156.70,309.13 L157.20,308.20 L157.70,309.93 L158.20,306.71 L158.70,307.96 L159.20,309.21 L159.70,305.69 L160.20,308.80 L160.70,308.39 L161.20,308.36 L161.70,304.33 L162.20,306.03 L162.70,304.23 L163.20,305.87 L163.70,304.72 L164.20,308.28 L164.70,306.74 L165.20,304.88 L165.70,304.54 L166.20,306.13 L166.70,305.27 L167.20,304.72 L167.70,308.04 L168.20,307.33 L168.70,308.03 L169.20,304.96 L169.70,307.92 L170.20,309.29 L170.70,307.71 L171.20,305.52 L171.70,308.34 L172.20,306.13 L172.70,303.85 L173.20,310.08 L173.70,307.35 L174.20,309.91 L174.70,308.52 L175.20,309.43 L175.70,307.11 L176.20,307.54 L176.70,308.97 L177.20,308.14 L177.70,309.10 L178.20,308.83 L178.70,308.17 L179.20,307.90 L179.70,306.26 L180.20,307.81 L180.70,309.95 L181.20,308.31 L181.70,307.45 L182.20,311.10 L182.70,311.12 L183.20,306.64 L183.70,312.32 L184.20,311.49 L184.70,311.48 L185.20,309.18 L185.70,307.28 L186.20,309.63 L186.70,310.04 L187.20,310.09 L187.70,310.68 L188.20,307.40 L188.70,310.26 L189.20,311.51 L189.70,312.41 L190.20,311.34 L190.70,311.62 L191.20,311.45 L191.70,311.31 L192.20,309.87 L192.70,311.12 L193.20,312.51 L193.70,313.10 L194.20,310.39 L194.70,312.22 L195.20,309.22 L195.70,312.69 L196.20,311.22 L196.70,311.59 L197.20,313.19 L197.70,309.16 L198.20,312.26 L198.70,313.96 L199.20,315.17 L199.70,314.05 L200.20,312.70 L200.70,314.17 L201.20,312.54 L201.70,310.61 L202.20,312.68 L202.70,314.49 L203.20,311.54 L203.70,311.39 L204.20,311.48 L204.70,310.98 L205.20,313.32 L205.70,313.57 L206.20,313.20 L206.70,313.91 L207.20,313.87 L207.70,314.54 L208.20,314.47 L208.70,317.13 L209.20,317.51 L209.70,315.50 L210.20,317.49 L210.70,317.84 L211.20,318.81 L211.70,318.20 L212.20,319.34 L212.70,317.51 L213.20,318.62 L213.70,318.05 L214.20,319.69 L214.70,319.54 L215.20,320.11 L215.70,318.24 L216.20,318.73 L216.70,317.51 L217.20,318.38 L217.70,319.15 L218.20,317.87 L218.70,318.56 L219.20,318.83 L219.70,319.89 L220.20,319.96 L220.70,320.40 L221.20,319.45 L221.70,320.07 L222.20,320.12 L222.70,320.13 L223.20,320.50 L223.70,319.99 L224.20,319.46 L224.70,321.23 L225.20,320.41 L225.70,320.19 L226.20,321.18 L226.70,320.72 L227.20,320.08 L227.70,319.97 L228.20,320.17 L228.70,320.09 L229.20,320.95 L229.70,320.51 L230.20,320.42 L230.70,320.12 L231.20,320.19 L231.70,320.55 L232.20,320.92 L232.70,320.76 L233.20,320.63 L233.70,321.02 L234.20,320.23 L234.70,321.15 L235.20,320.33 L235.70,320.13 L236.20,319.60 L236.70,319.96 L237.20,320.48 L237.70,321.22 L238.20,320.27 L238.70,321.04 L239.20,320.51 L239.70,321.32 L240.20,320.33 L240.70,320.11 L241.20,320.34 L241.70,320.66 L242.20,320.70 L242.70,320.57 L243.20,321.25 L243.70,320.52 L244.20,321.40 L244.70,320.71 L245.20,320.12 L245.70,320.46" fill="none" stroke="#222" stroke-width="1.1" stroke-linejoin="round"/>
<path d="M288.00,324.47 L288.50,325.00 L289.00,323.84 L289.50,324.04 L290.00,324.01 L290.50,324.09 L291.00,324.29 L291.50,324.53 L292.00,324.08 L292.50,323.66 L293.00,324.97 L293.50,325.00 L294.00,324.15 L294.50,323.63 L295.00,324.77 L295.50,325.00 L296.00,322.96 L296.50,324.42 L297.00,323.32 L297.50,324.79 L298.00,323.95 L298.50,324.58 L299.00,323.51 L299.50,323.39 L300.00,324.06 L300.50,323.09 L301.00,323.10 L301.50,322.43 L302.00,323.03 L302.50,323.58 L303.00,324.47 L303.50,323.58 L304.00,324.02 L304.50,324.28 L305.00,322.08 L305.50,322.24 L306.00,323.20 L306.50,323.03 L307.00,322.17 L307.50,322.04 L308.00,322.75 L308.50,322.63 L309.00,322.01 L309.50,321.19 L310.00,320.39 L310.50,320.60 L311.00,321.01 L311.50,321.08 L312.00,320.01 L312.50,320.42 L313.00,320.41 L313.50,320.07 L314.00,322.38 L314.50,317.46 L315.00,317.42 L315.50,320.44 L316.00,317.98 L316.50,314.93 L317.00,316.04 L317.50,316.23 L318.00,315.68 L318.50,317.51 L319.00,314.55 L319.50,313.55 L320.00,315.73 L320.50,316.46 L321.00,311.88 L321.50,314.40 L322.00,312.26 L322.50,312.70 L323.00,311.82 L323.50,309.34 L324.00,310.43 L324.50,310.31 L325.00,310.26 L325.50,309.72 L326.00,304.41 L326.50,307.62 L327.00,305.00 L327.50,301.78 L328.00,303.36 L328.50,300.85 L329.00,296.96 L329.50,295.01 L330.00,299.62 L330.50,293.97 L331.00,292.58 L331.50,290.12 L332.00,286.49 L332.50,287.19 L333.00,283.47 L333.50,286.90 L334.00,280.61 L334.50,285.00 L335.00,278.74 L335.50,283.66 L336.00,285.20 L336.50,283.18 L337.00,277.86 L337.50,277.55 L338.00,274.89 L338.50,276.89 L339.00,275.86 L339.50,275.58 L340.00,275.59 L340.50,273.84 L341.00,279.01 L341.50,275.64 L342.00,277.36 L342.50,274.50 L343.00,274.72 L343.50,270.87 L344.00,274.20 L344.50,265.06 L345.00,268.90 L345.50,268.82 L346.00,269.69 L346.50,271.18 L347.00,270.38 L347.50,266.09 L348.00,266.05 L348.50,267.38 L349.00,266.24 L349.50,270.90 L350.00,266.33 L350.50,263.54 L351.00,274.63 L351.50,272.93 L352.00,267.25 L352.50,270.63 L353.00,278.05 L353.50,276.13 L354.00,278.34 L354.50,280.05 L355.00,282.14 L355.50,270.31 L356.00,275.80 L356.50,275.57 L357.00,281.47 L357.50,279.59 L358.00,282.09 L358.50,286.01 L359.00,289.52 L359.50,281.67 L360.00,284.13 L360.50,290.94 L361.00,287.69 L361.50,294.11 L362.00,292.46 L362.50,289.92 L363.00,289.24 L363.50,297.98 L364.00,292.23 L364.50,294.86 L365.00,299.63 L365.50,296.97 L366.00,296.67 L366.50,296.93 L367.00,299.14 L367.50,299.77 L368.00,300.48 L368.50,301.83 L369.00,302.38 L369.50,301.61 L370.00,301.29 L370.50,297.97 L371.00,303.07 L371.50,308.43 L372.00,300.98 L372.50,305.15 L373.00,307.21 L373.50,305.82 L374.00,303.73 L374.50,305.77 L375.00,304.00 L375.50,305.27 L376.00,305.69 L376.50,306.69 L377.00,308.73 L377.50,307.02 L378.00,309.69 L378.50,308.79 L379.00,308.39 L379.50,309.43 L380.00,308.56 L380.50,307.23 L381.00,305.35 L381.50,306.42 L382.00,307.99 L382.50,311.30 L383.00,308.46 L383.50,311.34 L384.00,309.30 L384.50,310.36 L385.00,309.18 L385.50,308.11 L386.00,312.03 L386.50,309.38 L387.00,310.72 L387.50,308.73 L388.00,311.01 L388.50,313.17 L389.00,311.96 L389.50,311.75 L390.00,312.63 L390.50,311.65 L391.00,312.30 L391.50,315.80 L392.00,313.10 L392.50,314.70 L393.00,313.04 L393.50,316.28 L394.00,317.89 L394.50,316.63 L395.00,316.58 L395.50,316.62 L396.00,317.39 L396.50,317.67 L397.00,319.89 L397.50,319.96 L398.00,317.94 L398.50,318.94 L399.00,321.34 L399.50,319.60 L400.00,321.51 L400.50,320.19 L401.00,322.29 L401.50,322.56 L402.00,320.44 L402.50,322.50 L403.00,323.54 L403.50,321.72 L404.00,321.82 L404.50,322.16 L405.00,322.81 L405.50,323.97 L406.00,322.63 L406.50,322.57 L407.00,322.41 L407.50,323.04 L408.00,322.88 L408.50,322.81 L409.00,321.93 L409.50,323.53 L410.00,322.79 L410.50,324.34 L411.00,322.70 L411.50,322.74 L412.00,322.55 L412.50,323.68 L413.00,323.14 L413.50,322.74 L414.00,323.92 L414.50,323.30 L415.00,323.99 L415.50,323.31 L416.00,323.34 L416.50,323.91 L417.00,323.81 L417.50,323.06 L418.00,324.27 L418.50,323.17 L419.00,324.25 L419.50,323.52 L420.00,324.11 L420.50,323.61 L421.00,324.52 L421.50,323.37 L422.00,324.23 L422.50,324.24 L423.00,324.14 L423.50,324.16 L424.00,324.57 L424.50,323.97 L425.00,323.30 L425.50,323.95 L426.00,324.76 L426.50,324.72 L427.00,323.89 L427.50,324.19 L428.00,324.03 L428.50,323.84 L429.00,325.00 L429.50,323.29 L430.00,323.57 L430.50,323.88 L431.00,323.61 L431.50,324.66 L432.00,323.74 L432.50,323.63 L433.00,323.82 L433.50,324.72 L434.00,323.80 L434.50,324.08 L435.00,324.89 L435.50,324.50 L436.00,325.00 L436.50,324.50 L437.00,324.44 L437.50,323.83 L438.00,324.85 L438.50,324.63 L439.00,324.60 L439.50,324.44 L440.00,324.06 L440.50,324.48 L441.00,323.84 L441.50,323.94 L442.00,324.55 L442.50,324.19 L443.00,323.66 L443.50,323.28 L444.00,324.30 L444.50,324.43 L445.00,324.39 L445.50,323.95 L446.00,324.56 L446.50,324.37 L447.00,324.27 L447.50,323.96 L448.00,323.74 L448.50,324.17 L449.00,324.00 L449.50,324.58 L450.00,324.34 L450.50,324.09 L451.00,324.43 L451.50,324.44 L452.00,324.67 L452.50,324.35 L453.00,324.27 L453.50,324.21 L454.00,325.00 L454.50,324.20 L455.00,323.79 L455.50,324.41 L456.00,324.25 L456.50,324.94 L457.00,324.51 L457.50,324.82 L458.00,324.81 L458.50,324.41 L459.00,324.49 L459.50,324.18 L460.00,324.82 L460.50,324.63 L461.00,324.33 L461.50,324.71 L462.00,323.64 L462.50,324.29 L463.00,324.51 L463.50,324.16 L464.00,324.80 L464.50,324.75 L465.00,324.08 L465.50,324.35 L466.00,324.78 L466.50,323.94 L467.00,324.63 L467.50,324.00 L468.00,325.00 L468.50,323.51 L469.00,324.55 L469.50,324.80 L470.00,324.00 L470.50,323.59 L471.00,324.06 L471.50,324.43 L472.00,324.30 L472.50,323.69 L473.00,324.32 L473.50,325.00 L474.00,323.52 L474.50,324.62 L475.00,324.96 L475.50,323.70 L476.00,324.10 L476.50,325.00 L477.00,324.64 L477.50,324.60 L478.00,324.39 L478.50,324.15 L479.00,324.43 L479.50,324.83 L480.00,324.78 L480.50,324.19 L481.00,324.23 L481.50,324.68 L482.00,323.76 L482.50,325.00 L483.00,325.00 L483.50,324.94 L484.00,325.00 L484.50,324.88 L485.00,324.77 L485.50,324.22 L486.00,324.25 L486.50,324.41 L487.00,324.28 L487.50,324.70 L488.00,324.65 L488.50,324.98 L489.00,324.75 L489.50,324.48 L490.00,324.22 L490.50,324.60 L491.00,324.52 L491.50,324.42 L492.00,325.00 L492.50,324.53 L493.00,325.00 L493.50,324.55 L494.00,324.91 L494.50,324.72 L495.00,324.78 L495.50,324.64 L496.00,324.70 L496.50,324.66 L497.00,324.71 L497.50,324.38 L498.00,325.00 L498.50,324.20 L499.00,324.65 L499.50,324.95 L500.00,324.40 L500.50,324.90 L501.00,324.85 L501.50,324.64 L502.00,324.38 L502.50,324.41 L503.00,324.11 L503.50,324.17 L504.00,324.34 L504.50,324.29 L505.00,324.54 L505.50,325.00 L506.00,324.98 L506.50,324.27 L507.00,323.98 L507.50,324.39 L508.00,325.00 L508.50,324.32 L509.00,325.00" fill="none" stroke="#b8b8b8" stroke-width="1.4" stroke-linejoin="round"/>
<path d="M288.00,325.00 L288.00,324.56 L288.60,324.54 L289.20,324.48 L289.80,324.30 L290.40,324.26 L291.00,324.00 L291.60,324.74 L292.20,323.82 L292.80,324.46 L293.40,323.78 L294.00,323.41 L294.60,324.63 L295.20,324.35 L295.80,324.77 L296.40,324.45 L297.00,324.40 L297.60,324.35 L298.20,323.84 L298.80,323.84 L299.40,324.06 L300.00,324.11 L300.60,323.63 L301.20,324.93 L301.80,323.94 L302.40,322.50 L303.00,324.72 L303.60,324.34 L304.20,323.83 L304.80,323.53 L305.40,323.50 L306.00,323.48 L306.60,324.31 L307.20,323.06 L307.80,323.02 L308.40,322.33 L309.00,322.57 L309.60,323.11 L310.20,320.80 L310.80,321.09 L311.40,321.31 L312.00,320.23 L312.60,322.63 L313.20,322.22 L313.80,320.18 L314.40,319.84 L315.00,320.04 L315.60,318.17 L316.20,319.06 L316.80,318.59 L317.40,315.63 L318.00,317.47 L318.60,314.53 L319.20,314.88 L319.80,315.30 L320.40,313.16 L321.00,314.57 L321.60,312.78 L322.20,313.32 L322.80,309.87 L323.40,309.66 L324.00,308.71 L324.60,308.30 L325.20,306.85 L325.80,303.42 L326.40,302.82 L327.00,307.54 L327.60,301.04 L328.20,300.44 L328.80,300.12 L329.40,297.35 L330.00,296.36 L330.60,292.61 L331.20,290.84 L331.80,294.92 L332.40,294.11 L333.00,286.88 L333.60,290.67 L334.20,289.33 L334.80,287.72 L335.40,285.12 L336.00,285.85 L336.60,281.82 L337.20,280.04 L337.80,275.56 L338.40,272.60 L339.00,264.61 L339.60,267.14 L340.20,259.62 L340.80,257.21 L341.40,252.47 L342.00,251.26 L342.60,251.99 L343.20,249.53 L343.80,253.99 L344.40,250.28 L345.00,246.54 L345.60,246.59 L346.20,247.90 L346.80,243.55 L347.40,248.65 L348.00,242.87 L348.60,250.51 L349.20,252.89 L349.80,254.25 L350.40,254.35 L351.00,251.59 L351.60,250.37 L352.20,249.04 L352.80,250.01 L353.40,254.67 L354.00,256.41 L354.60,256.68 L355.20,259.90 L355.80,261.07 L356.40,263.68 L357.00,270.43 L357.60,268.24 L358.20,270.38 L358.80,276.37 L359.40,273.23 L360.00,277.87 L360.60,278.26 L361.20,282.95 L361.80,284.52 L362.40,284.89 L363.00,287.47 L363.60,291.79 L364.20,288.24 L364.80,290.37 L365.40,294.32 L366.00,293.22 L366.60,291.24 L367.20,297.04 L367.80,299.62 L368.40,295.73 L369.00,297.44 L369.60,297.11 L370.20,295.95 L370.80,296.46 L371.40,296.70 L372.00,292.24 L372.60,296.80 L373.20,294.85 L373.80,300.45 L374.40,304.09 L375.00,306.91 L375.60,308.89 L376.20,309.64 L376.80,309.73 L377.40,309.17 L378.00,310.38 L378.60,309.34 L379.20,311.28 L379.80,312.76 L380.40,311.80 L381.00,312.34 L381.60,312.32 L382.20,311.27 L382.80,310.83 L383.40,313.61 L384.00,314.30 L384.60,314.43 L385.20,312.28 L385.80,315.54 L386.40,315.34 L387.00,314.34 L387.60,316.12 L388.20,316.88 L388.80,316.72 L389.40,317.81 L390.00,317.01 L390.60,319.82 L391.20,319.39 L391.80,319.37 L392.40,319.07 L393.00,320.61 L393.60,320.75 L394.20,319.12 L394.80,321.48 L395.40,321.85 L396.00,322.43 L396.60,323.26 L397.20,324.02 L397.80,323.01 L398.40,323.67 L399.00,323.34 L399.60,324.04 L400.20,324.87 L400.80,324.43 L401.40,324.44 L402.00,324.13 L402.60,324.27 L403.20,324.41 L403.80,325.00 L404.40,325.00 L405.00,325.00 L405.60,324.86 L406.20,324.78 L406.80,324.67 L407.40,324.88 L408.00,324.74 L408.60,324.47 L409.20,324.47 L409.80,324.93 L410.40,324.73 L411.00,324.58 L411.60,324.64 L412.20,324.48 L412.80,324.47 L413.40,324.57 L414.00,324.67 L414.60,324.57 L415.20,324.99 L415.80,324.76 L416.40,324.46 L417.00,324.46 L417.60,325.00 L418.20,325.00 L418.80,324.98 L419.40,324.34 L420.00,324.48 L420.60,324.05 L421.20,324.65 L421.80,324.02 L422.40,324.30 L423.00,324.62 L423.60,324.32 L424.20,324.77 L424.80,325.00 L425.40,324.17 L426.00,324.96 L426.60,324.51 L427.20,324.88 L427.80,325.00 L428.40,324.37 L429.00,324.58 L429.60,324.63 L430.20,324.58 L430.80,323.92 L431.40,324.00 L432.00,324.10 L432.60,324.52 L433.20,324.86 L433.80,324.25 L434.40,324.35 L435.00,325.00 L435.60,325.00 L436.20,325.00 L436.80,324.83 L437.40,324.64 L438.00,323.85 L438.60,325.00 L439.20,324.62 L439.80,325.00 L440.40,324.74 L441.00,324.66 L441.60,324.96 L442.20,324.52 L442.80,324.80 L443.40,325.00 L444.00,324.92 L444.60,324.23 L445.20,324.27 L445.80,324.60 L446.40,324.84 L447.00,324.50 L447.60,324.40 L448.20,324.96 L448.80,324.71 L449.40,325.00 L450.00,324.73 L450.60,324.65 L451.20,324.90 L451.80,324.72 L452.40,324.51 L453.00,324.86 L453.60,324.29 L454.20,324.87 L454.80,324.40 L455.40,324.96 L456.00,325.00 L456.60,324.40 L457.20,324.00 L457.80,324.55 L458.40,325.00 L459.00,324.19 L459.60,324.86 L460.20,324.92 L460.80,323.59 L461.40,324.82 L462.00,324.14 L462.60,324.42 L463.20,324.84 L463.80,324.47 L464.40,325.00 L465.00,324.59 L465.60,325.00 L466.20,325.00 L466.80,325.00 L467.40,325.00 L468.00,324.38 L468.60,324.45 L469.20,324.01 L469.80,324.70 L470.40,324.60 L471.00,325.00 L471.60,324.89 L472.20,325.00 L472.80,325.00 L473.40,325.00 L474.00,325.00 L474.60,324.36 L475.20,324.84 L475.80,324.40 L476.40,324.78 L477.00,325.00 L477.60,324.54 L478.20,324.87 L478.80,323.79 L479.40,324.73 L480.00,325.00 L480.60,325.00 L481.20,325.00 L481.80,324.72 L482.40,324.77 L483.00,324.68 L483.60,324.73 L484.20,324.56 L484.80,324.94 L485.40,325.00 L486.00,324.79 L486.60,325.00 L487.20,324.90 L487.80,324.66 L488.40,324.97 L489.00,324.84 L489.60,324.45 L490.20,325.00 L490.80,325.00 L491.40,324.72 L492.00,325.00 L492.60,324.64 L493.20,324.77 L493.80,324.59 L494.40,324.81 L495.00,325.00 L495.60,325.00 L496.20,325.00 L496.80,325.00 L497.40,324.90 L498.00,324.60 L498.60,324.60 L499.20,325.00 L499.80,325.00 L500.40,324.63 L501.00,324.69 L501.60,325.00 L502.20,324.73 L502.80,324.89 L503.40,324.59 L504.00,324.96 L504.60,324.68 L505.20,324.49 L505.80,324.77 L506.40,325.00 L507.00,325.00 L507.60,324.78 L508.20,325.00 L508.80,325.00 L508.80,325.00 Z" fill="#232323" stroke="#232323" stroke-width="0.4"/>
<path d="M288.00,325.00 L288.50,324.90 L289.00,323.79 L289.50,324.14 L290.00,324.76 L290.50,324.25 L291.00,323.65 L291.50,324.16 L292.00,324.28 L292.50,324.20 L293.00,323.75 L293.50,323.92 L294.00,323.63 L294.50,324.09 L295.00,325.00 L295.50,324.06 L296.00,324.22 L296.50,324.95 L297.00,322.84 L297.50,323.76 L298.00,323.06 L298.50,324.07 L299.00,323.11 L299.50,324.69 L300.00,323.75 L300.50,323.21 L301.00,324.21 L301.50,324.11 L302.00,324.12 L302.50,323.02 L303.00,323.20 L303.50,323.89 L304.00,323.46 L304.50,323.98 L305.00,323.96 L305.50,323.67 L306.00,322.68 L306.50,324.09 L307.00,322.96 L307.50,321.56 L308.00,323.14 L308.50,321.74 L309.00,319.99 L309.50,320.60 L310.00,321.55 L310.50,320.81 L311.00,321.86 L311.50,319.61 L312.00,319.54 L312.50,317.96 L313.00,319.54 L313.50,319.88 L314.00,319.63 L314.50,320.40 L315.00,319.35 L315.50,318.75 L316.00,315.93 L316.50,318.02 L317.00,317.44 L317.50,315.12 L318.00,313.68 L318.50,317.53 L319.00,314.69 L319.50,317.10 L320.00,315.01 L320.50,314.19 L321.00,313.38 L321.50,313.58 L322.00,312.66 L322.50,312.48 L323.00,309.13 L323.50,310.62 L324.00,309.49 L324.50,308.40 L325.00,310.01 L325.50,307.34 L326.00,304.85 L326.50,303.26 L327.00,302.42 L327.50,300.30 L328.00,303.68 L328.50,295.59 L329.00,295.28 L329.50,293.88 L330.00,297.13 L330.50,290.88 L331.00,292.13 L331.50,295.40 L332.00,287.60 L332.50,289.86 L333.00,290.81 L333.50,285.46 L334.00,285.13 L334.50,281.63 L335.00,281.19 L335.50,281.35 L336.00,280.83 L336.50,276.05 L337.00,276.80 L337.50,275.85 L338.00,277.12 L338.50,269.73 L339.00,275.67 L339.50,273.40 L340.00,276.66 L340.50,273.29 L341.00,276.38 L341.50,268.30 L342.00,274.23 L342.50,265.49 L343.00,273.06 L343.50,275.75 L344.00,269.96 L344.50,272.52 L345.00,271.12 L345.50,273.58 L346.00,267.78 L346.50,266.28 L347.00,264.39 L347.50,272.07 L348.00,261.77 L348.50,266.19 L349.00,268.04 L349.50,263.73 L350.00,259.58 L350.50,267.94 L351.00,269.78 L351.50,275.82 L352.00,275.13 L352.50,276.71 L353.00,275.28 L353.50,275.82 L354.00,281.57 L354.50,274.94 L355.00,276.76 L355.50,278.72 L356.00,282.21 L356.50,273.72 L357.00,275.72 L357.50,278.14 L358.00,280.63 L358.50,279.73 L359.00,279.92 L359.50,286.42 L360.00,282.64 L360.50,288.44 L361.00,289.74 L361.50,294.19 L362.00,291.10 L362.50,287.95 L363.00,294.95 L363.50,292.78 L364.00,293.64 L364.50,294.53 L365.00,294.75 L365.50,296.98 L366.00,297.31 L366.50,298.50 L367.00,297.99 L367.50,301.29 L368.00,299.29 L368.50,298.93 L369.00,304.33 L369.50,303.60 L370.00,303.28 L370.50,302.32 L371.00,306.03 L371.50,305.69 L372.00,305.61 L372.50,304.53 L373.00,304.07 L373.50,304.54 L374.00,304.00 L374.50,305.52 L375.00,304.30 L375.50,306.57 L376.00,305.65 L376.50,306.69 L377.00,304.68 L377.50,308.58 L378.00,306.56 L378.50,306.06 L379.00,308.19 L379.50,309.53 L380.00,308.17 L380.50,307.03 L381.00,307.12 L381.50,307.95 L382.00,310.39 L382.50,308.40 L383.00,309.92 L383.50,309.74 L384.00,310.71 L384.50,308.93 L385.00,308.30 L385.50,312.06 L386.00,310.60 L386.50,309.35 L387.00,310.80 L387.50,314.31 L388.00,313.95 L388.50,315.62 L389.00,310.05 L389.50,312.92 L390.00,315.60 L390.50,313.40 L391.00,312.25 L391.50,314.88 L392.00,313.35 L392.50,314.42 L393.00,315.51 L393.50,316.81 L394.00,314.97 L394.50,319.14 L395.00,314.93 L395.50,318.25 L396.00,317.67 L396.50,317.09 L397.00,317.02 L397.50,320.19 L398.00,319.34 L398.50,320.35 L399.00,320.27 L399.50,321.90 L400.00,321.68 L400.50,320.47 L401.00,321.34 L401.50,320.82 L402.00,322.26 L402.50,321.97 L403.00,320.99 L403.50,321.64 L404.00,321.81 L404.50,322.64 L405.00,322.87 L405.50,322.04 L406.00,324.43 L406.50,322.36 L407.00,322.19 L407.50,320.91 L408.00,323.34 L408.50,322.71 L409.00,322.92 L409.50,322.04 L410.00,322.47 L410.50,323.38 L411.00,322.92 L411.50,322.26 L412.00,323.07 L412.50,322.85 L413.00,323.41 L413.50,323.51 L414.00,322.95 L414.50,323.16 L415.00,323.50 L415.50,323.22 L416.00,324.71 L416.50,323.58 L417.00,324.24 L417.50,323.35 L418.00,323.77 L418.50,323.65 L419.00,324.51 L419.50,324.07 L420.00,324.25 L420.50,324.25 L421.00,324.00 L421.50,323.99 L422.00,323.92 L422.50,323.82 L423.00,323.70 L423.50,323.75 L424.00,325.00 L424.50,324.83 L425.00,324.09 L425.50,323.81 L426.00,324.91 L426.50,324.13 L427.00,324.50 L427.50,324.21 L428.00,323.78 L428.50,323.90 L429.00,324.74 L429.50,323.76 L430.00,324.72 L430.50,324.53 L431.00,323.88 L431.50,324.61 L432.00,324.42 L432.50,323.73 L433.00,324.58 L433.50,324.36 L434.00,325.00 L434.50,324.42 L435.00,323.86 L435.50,324.20 L436.00,324.49 L436.50,324.13 L437.00,324.71 L437.50,324.68 L438.00,323.96 L438.50,323.98 L439.00,324.37 L439.50,324.40 L440.00,323.14 L440.50,324.57 L441.00,324.32 L441.50,324.23 L442.00,323.90 L442.50,324.63 L443.00,324.20 L443.50,323.96 L444.00,324.50 L444.50,324.89 L445.00,324.74 L445.50,324.97 L446.00,324.05 L446.50,323.62 L447.00,323.64 L447.50,323.82 L448.00,324.26 L448.50,324.85 L449.00,325.00 L449.50,324.40 L450.00,323.88 L450.50,324.18 L451.00,323.74 L451.50,324.49 L452.00,324.69 L452.50,324.21 L453.00,324.28 L453.50,324.55 L454.00,324.85 L454.50,324.67 L455.00,324.73 L455.50,323.27 L456.00,324.37 L456.50,323.88 L457.00,324.66 L457.50,323.97 L458.00,324.11 L458.50,325.00 L459.00,324.45 L459.50,324.66 L460.00,324.07 L460.50,323.73 L461.00,324.56 L461.50,324.14 L462.00,323.96 L462.50,324.29 L463.00,324.57 L463.50,324.33 L464.00,324.96 L464.50,323.55 L465.00,324.42 L465.50,324.78 L466.00,324.44 L466.50,324.78 L467.00,324.22 L467.50,324.95 L468.00,324.52 L468.50,324.77 L469.00,325.00 L469.50,323.82 L470.00,324.11 L470.50,324.48 L471.00,324.80 L471.50,323.85 L472.00,324.77 L472.50,323.80 L473.00,325.00 L473.50,323.83 L474.00,324.34 L474.50,323.98 L475.00,324.65 L475.50,324.60 L476.00,324.01 L476.50,324.45 L477.00,323.76 L477.50,324.36 L478.00,324.59 L478.50,324.47 L479.00,324.19 L479.50,324.90 L480.00,324.78 L480.50,324.90 L481.00,324.51 L481.50,324.22 L482.00,323.73 L482.50,324.27 L483.00,324.32 L483.50,324.46 L484.00,324.44 L484.50,324.67 L485.00,324.77 L485.50,323.73 L486.00,324.57 L486.50,324.41 L487.00,324.83 L487.50,324.51 L488.00,325.00 L488.50,324.11 L489.00,324.94 L489.50,324.61 L490.00,324.82 L490.50,323.79 L491.00,324.22 L491.50,323.62 L492.00,324.75 L492.50,325.00 L493.00,324.48 L493.50,324.51 L494.00,324.80 L494.50,324.46 L495.00,325.00 L495.50,324.57 L496.00,323.99 L496.50,324.82 L497.00,324.49 L497.50,324.46 L498.00,324.90 L498.50,324.29 L499.00,324.71 L499.50,324.51 L500.00,324.62 L500.50,324.19 L501.00,324.84 L501.50,324.51 L502.00,324.76 L502.50,323.95 L503.00,324.70 L503.50,324.93 L504.00,323.99 L504.50,324.68 L505.00,324.76 L505.50,325.00 L506.00,324.75 L506.50,324.02 L507.00,324.48 L507.50,324.30 L508.00,325.00 L508.50,324.24 L509.00,324.53" fill="none" stroke="#b8b8b8" stroke-width="1.2" stroke-linejoin="round"/>
<path d="M31.00,465.40 L31.00,464.30 L31.60,464.90 L32.20,465.02 L32.80,465.40 L33.40,465.37 L34.00,465.04 L34.60,465.03 L35.20,465.40 L35.80,464.50 L36.40,465.03 L37.00,464.75 L37.60,465.02 L38.20,464.02 L38.80,464.39 L39.40,464.85 L40.00,465.40 L40.60,465.07 L41.20,463.60 L41.80,464.13 L42.40,463.94 L43.00,464.36 L43.60,464.14 L44.20,464.26 L44.80,463.95 L45.40,464.38 L46.00,463.41 L46.60,463.25 L47.20,462.08 L47.80,461.60 L48.40,461.53 L49.00,459.16 L49.60,458.98 L50.20,460.08 L50.80,459.93 L51.40,458.59 L52.00,460.27 L52.60,460.34 L53.20,462.45 L53.80,462.14 L54.40,460.37 L55.00,461.99 L55.60,459.63 L56.20,460.06 L56.80,460.99 L57.40,460.14 L58.00,458.79 L58.60,458.06 L59.20,458.30 L59.80,458.13 L60.40,456.09 L61.00,457.21 L61.60,455.06 L62.20,455.13 L62.80,454.56 L63.40,453.98 L64.00,454.26 L64.60,451.02 L65.20,450.13 L65.80,451.52 L66.40,450.69 L67.00,450.74 L67.60,449.40 L68.20,448.34 L68.80,449.33 L69.40,446.53 L70.00,447.29 L70.60,444.82 L71.20,445.42 L71.80,444.92 L72.40,443.99 L73.00,442.63 L73.60,441.93 L74.20,437.95 L74.80,439.78 L75.40,438.19 L76.00,433.06 L76.60,435.56 L77.20,430.57 L77.80,433.44 L78.40,429.70 L79.00,429.73 L79.60,427.42 L80.20,426.24 L80.80,424.93 L81.40,420.95 L82.00,416.89 L82.60,415.42 L83.20,407.61 L83.80,411.66 L84.40,400.32 L85.00,403.16 L85.60,403.60 L86.20,401.04 L86.80,399.08 L87.40,397.98 L88.00,399.43 L88.60,397.04 L89.20,394.56 L89.80,393.03 L90.40,389.17 L91.00,386.98 L91.60,389.99 L92.20,387.58 L92.80,389.13 L93.40,397.40 L94.00,400.28 L94.60,392.81 L95.20,389.95 L95.80,391.94 L96.40,391.12 L97.00,396.59 L97.60,394.20 L98.20,397.60 L98.80,401.06 L99.40,400.63 L100.00,406.56 L100.60,406.62 L101.20,408.13 L101.80,410.10 L102.40,412.31 L103.00,414.84 L103.60,420.50 L104.20,417.66 L104.80,422.15 L105.40,423.90 L106.00,425.95 L106.60,429.11 L107.20,432.82 L107.80,433.17 L108.40,435.20 L109.00,438.47 L109.60,440.63 L110.20,440.77 L110.80,443.80 L111.40,444.37 L112.00,448.03 L112.60,449.44 L113.20,451.09 L113.80,450.68 L114.40,451.47 L115.00,454.59 L115.60,455.11 L116.20,454.10 L116.80,454.44 L117.40,455.84 L118.00,457.52 L118.60,457.77 L119.20,457.08 L119.80,456.61 L120.40,457.69 L121.00,458.11 L121.60,459.89 L122.20,460.52 L122.80,462.96 L123.40,463.40 L124.00,464.58 L124.60,464.45 L125.20,465.01 L125.80,464.46 L126.40,464.63 L127.00,465.38 L127.60,464.93 L128.20,465.16 L128.80,465.17 L129.40,464.48 L130.00,465.15 L130.60,464.16 L131.20,464.76 L131.80,464.14 L132.40,465.31 L133.00,465.25 L133.60,464.74 L134.20,464.94 L134.80,464.73 L135.40,464.94 L136.00,465.12 L136.60,464.84 L137.20,463.48 L137.80,464.89 L138.40,464.16 L139.00,463.72 L139.60,464.14 L140.20,465.40 L140.80,464.11 L141.40,464.92 L142.00,464.67 L142.60,464.80 L143.20,464.69 L143.80,465.40 L144.40,464.36 L145.00,464.91 L145.60,464.80 L146.20,465.00 L146.80,464.96 L147.40,464.58 L148.00,465.40 L148.60,465.08 L149.20,464.95 L149.80,464.88 L150.40,464.89 L151.00,464.98 L151.60,465.40 L152.20,464.77 L152.80,464.65 L153.40,464.70 L154.00,464.81 L154.60,464.50 L155.20,464.86 L155.80,464.72 L156.40,464.87 L157.00,464.09 L157.60,464.71 L158.20,465.30 L158.80,463.95 L159.40,464.97 L160.00,464.65 L160.60,465.10 L161.20,465.02 L161.80,465.20 L162.40,465.07 L163.00,464.95 L163.60,464.28 L164.20,465.10 L164.80,464.70 L165.40,464.81 L166.00,465.40 L166.60,464.39 L167.20,465.19 L167.80,465.07 L168.40,464.33 L169.00,464.92 L169.60,465.40 L170.20,464.93 L170.80,464.79 L171.40,464.94 L172.00,464.86 L172.60,464.73 L173.20,465.36 L173.80,465.04 L174.40,465.10 L175.00,464.60 L175.60,464.20 L176.20,464.80 L176.80,464.66 L177.40,464.33 L178.00,463.86 L178.60,465.14 L179.20,465.03 L179.80,465.40 L180.40,465.40 L181.00,465.21 L181.60,465.38 L182.20,464.93 L182.80,465.26 L183.40,464.49 L184.00,465.40 L184.60,464.99 L185.20,464.36 L185.80,464.86 L186.40,465.29 L187.00,465.06 L187.60,464.80 L188.20,465.40 L188.80,464.87 L189.40,464.99 L190.00,465.07 L190.60,465.02 L191.20,464.30 L191.80,465.07 L192.40,465.22 L193.00,464.96 L193.60,465.34 L194.20,464.89 L194.80,464.49 L195.40,465.11 L196.00,464.89 L196.60,465.15 L197.20,464.89 L197.80,464.88 L198.40,464.75 L199.00,465.18 L199.60,465.40 L200.20,465.33 L200.80,465.02 L201.40,464.85 L202.00,464.75 L202.60,464.52 L203.20,465.14 L203.80,464.97 L204.40,465.18 L205.00,464.45 L205.60,465.40 L206.20,465.31 L206.80,464.88 L207.40,465.19 L208.00,464.75 L208.60,464.35 L209.20,464.84 L209.80,464.74 L210.40,464.84 L211.00,464.49 L211.60,464.90 L212.20,465.21 L212.80,464.90 L213.40,465.40 L214.00,465.40 L214.60,465.20 L215.20,465.19 L215.80,465.40 L216.40,464.47 L217.00,464.62 L217.60,465.00 L218.20,465.15 L218.80,465.02 L219.40,464.99 L220.00,465.39 L220.60,464.91 L221.20,464.98 L221.80,465.03 L222.40,464.93 L223.00,465.16 L223.60,464.81 L224.20,465.15 L224.80,464.62 L225.40,464.71 L226.00,465.40 L226.60,465.40 L227.20,465.40 L227.80,465.14 L228.40,464.18 L229.00,464.88 L229.60,464.87 L230.20,465.13 L230.80,464.95 L231.40,465.40 L232.00,464.08 L232.60,465.32 L233.20,464.73 L233.80,465.39 L234.40,465.33 L235.00,464.00 L235.60,464.41 L236.20,465.40 L236.80,464.98 L237.40,464.69 L238.00,464.99 L238.60,465.40 L239.20,465.30 L239.80,465.40 L240.40,464.80 L241.00,465.13 L241.60,465.13 L242.20,464.45 L242.80,465.37 L243.40,465.13 L244.00,465.21 L244.60,465.15 L245.20,465.03 L245.80,464.73 L246.40,465.12 L247.00,465.08 L247.60,465.40 L248.20,465.27 L248.80,465.00 L249.40,464.61 L250.00,465.40 L250.60,465.31 L251.20,465.24 L251.80,465.40 L251.80,465.40 Z" fill="#232323" stroke="#232323" stroke-width="0.4"/>
<path d="M31.00,464.15 L31.50,463.62 L32.00,464.37 L32.50,464.17 L33.00,464.48 L33.50,464.37 L34.00,463.83 L34.50,463.93 L35.00,464.30 L35.50,464.20 L36.00,463.78 L36.50,464.20 L37.00,464.53 L37.50,463.09 L38.00,464.18 L38.50,464.54 L39.00,463.57 L39.50,464.27 L40.00,463.17 L40.50,463.38 L41.00,463.95 L41.50,463.28 L42.00,463.62 L42.50,464.22 L43.00,464.60 L43.50,463.94 L44.00,463.41 L44.50,463.39 L45.00,465.14 L45.50,464.06 L46.00,462.80 L46.50,463.82 L47.00,463.00 L47.50,463.31 L48.00,462.99 L48.50,464.67 L49.00,464.64 L49.50,464.08 L50.00,463.98 L50.50,463.48 L51.00,463.40 L51.50,463.00 L52.00,464.35 L52.50,464.51 L53.00,463.72 L53.50,462.38 L54.00,463.75 L54.50,464.21 L55.00,464.77 L55.50,464.10 L56.00,464.21 L56.50,464.27 L57.00,463.75 L57.50,463.78 L58.00,463.59 L58.50,464.24 L59.00,463.69 L59.50,464.01 L60.00,463.57 L60.50,462.84 L61.00,462.56 L61.50,463.37 L62.00,463.09 L62.50,463.88 L63.00,462.54 L63.50,464.66 L64.00,464.10 L64.50,464.73 L65.00,463.95 L65.50,463.69 L66.00,463.83 L66.50,463.66 L67.00,462.91 L67.50,464.43 L68.00,463.53 L68.50,463.94 L69.00,463.15 L69.50,464.89 L70.00,463.95 L70.50,464.47 L71.00,463.23 L71.50,464.18 L72.00,463.69 L72.50,464.60 L73.00,463.49 L73.50,464.09 L74.00,464.31 L74.50,463.25 L75.00,463.62 L75.50,462.64 L76.00,462.61 L76.50,464.23 L77.00,463.45 L77.50,464.13 L78.00,463.76 L78.50,462.70 L79.00,462.38 L79.50,463.52 L80.00,463.93 L80.50,462.78 L81.00,463.99 L81.50,463.47 L82.00,464.17 L82.50,463.32 L83.00,463.25 L83.50,464.11 L84.00,463.05 L84.50,464.88 L85.00,463.62 L85.50,463.96 L86.00,463.62 L86.50,464.80 L87.00,463.82 L87.50,463.94 L88.00,464.07 L88.50,463.18 L89.00,464.83 L89.50,461.96 L90.00,464.13 L90.50,463.42 L91.00,463.51 L91.50,462.66 L92.00,463.28 L92.50,464.39 L93.00,463.42 L93.50,464.68 L94.00,463.24 L94.50,462.93 L95.00,464.12 L95.50,462.72 L96.00,462.87 L96.50,464.42 L97.00,463.47 L97.50,463.26 L98.00,463.52 L98.50,463.71 L99.00,464.54 L99.50,464.22 L100.00,463.56 L100.50,463.79 L101.00,464.28 L101.50,463.16 L102.00,463.27 L102.50,463.70 L103.00,463.12 L103.50,462.79 L104.00,463.42 L104.50,463.33 L105.00,462.62 L105.50,464.28 L106.00,464.33 L106.50,462.40 L107.00,463.39 L107.50,463.56 L108.00,464.20 L108.50,462.99 L109.00,463.56 L109.50,463.60 L110.00,462.01 L110.50,462.90 L111.00,462.90 L111.50,463.20 L112.00,461.32 L112.50,463.25 L113.00,461.31 L113.50,462.97 L114.00,462.38 L114.50,462.87 L115.00,462.48 L115.50,462.12 L116.00,463.43 L116.50,463.40 L117.00,463.40 L117.50,462.68 L118.00,462.82 L118.50,463.39 L119.00,462.11 L119.50,462.08 L120.00,461.30 L120.50,462.99 L121.00,461.55 L121.50,463.20 L122.00,463.17 L122.50,464.01 L123.00,462.09 L123.50,460.43 L124.00,462.49 L124.50,462.42 L125.00,461.42 L125.50,461.54 L126.00,462.64 L126.50,462.29 L127.00,462.61 L127.50,460.96 L128.00,461.32 L128.50,462.12 L129.00,461.33 L129.50,462.26 L130.00,461.70 L130.50,461.46 L131.00,462.70 L131.50,461.56 L132.00,462.61 L132.50,461.98 L133.00,461.91 L133.50,460.58 L134.00,461.27 L134.50,461.64 L135.00,461.45 L135.50,462.34 L136.00,462.05 L136.50,460.09 L137.00,462.47 L137.50,462.40 L138.00,461.25 L138.50,460.52 L139.00,461.68 L139.50,461.39 L140.00,463.09 L140.50,461.76 L141.00,462.05 L141.50,460.51 L142.00,460.97 L142.50,460.31 L143.00,460.81 L143.50,459.90 L144.00,460.98 L144.50,462.51 L145.00,460.96 L145.50,463.08 L146.00,463.00 L146.50,461.03 L147.00,461.27 L147.50,459.87 L148.00,461.80 L148.50,459.64 L149.00,462.46 L149.50,462.25 L150.00,462.88 L150.50,462.16 L151.00,461.39 L151.50,460.96 L152.00,463.16 L152.50,462.76 L153.00,461.56 L153.50,461.34 L154.00,462.03 L154.50,461.10 L155.00,462.24 L155.50,462.67 L156.00,462.28 L156.50,460.73 L157.00,462.48 L157.50,462.28 L158.00,460.77 L158.50,461.41 L159.00,461.69 L159.50,462.43 L160.00,462.89 L160.50,462.37 L161.00,460.00 L161.50,461.32 L162.00,461.20 L162.50,461.67 L163.00,462.58 L163.50,461.24 L164.00,461.80 L164.50,462.13 L165.00,462.53 L165.50,461.27 L166.00,460.28 L166.50,463.46 L167.00,462.18 L167.50,462.45 L168.00,462.56 L168.50,460.75 L169.00,463.36 L169.50,462.38 L170.00,462.75 L170.50,462.28 L171.00,463.01 L171.50,462.15 L172.00,461.73 L172.50,461.83 L173.00,462.28 L173.50,462.30 L174.00,461.89 L174.50,462.08 L175.00,461.88 L175.50,461.40 L176.00,462.87 L176.50,462.71 L177.00,462.73 L177.50,463.34 L178.00,461.90 L178.50,463.65 L179.00,463.73 L179.50,462.85 L180.00,462.11 L180.50,462.27 L181.00,463.18 L181.50,462.58 L182.00,461.22 L182.50,462.43 L183.00,461.85 L183.50,460.81 L184.00,464.26 L184.50,462.56 L185.00,461.41 L185.50,462.53 L186.00,461.33 L186.50,462.97 L187.00,462.17 L187.50,463.00 L188.00,461.47 L188.50,461.54 L189.00,460.91 L189.50,462.18 L190.00,462.97 L190.50,462.84 L191.00,463.05 L191.50,462.44 L192.00,462.51 L192.50,463.20 L193.00,462.19 L193.50,462.60 L194.00,462.82 L194.50,460.98 L195.00,461.30 L195.50,463.28 L196.00,461.91 L196.50,460.69 L197.00,463.07 L197.50,463.82 L198.00,462.22 L198.50,462.85 L199.00,461.26 L199.50,460.85 L200.00,461.87 L200.50,461.42 L201.00,461.46 L201.50,460.74 L202.00,462.22 L202.50,459.60 L203.00,460.20 L203.50,461.82 L204.00,459.63 L204.50,460.86 L205.00,460.22 L205.50,457.28 L206.00,458.94 L206.50,459.06 L207.00,456.22 L207.50,456.43 L208.00,454.31 L208.50,455.93 L209.00,456.48 L209.50,454.85 L210.00,457.69 L210.50,454.31 L211.00,453.42 L211.50,453.34 L212.00,452.12 L212.50,451.15 L213.00,451.77 L213.50,451.95 L214.00,452.69 L214.50,454.41 L215.00,450.21 L215.50,450.15 L216.00,450.34 L216.50,451.29 L217.00,449.63 L217.50,449.87 L218.00,450.31 L218.50,443.41 L219.00,445.14 L219.50,448.12 L220.00,447.13 L220.50,444.16 L221.00,449.71 L221.50,446.83 L222.00,448.76 L222.50,447.22 L223.00,443.36 L223.50,448.03 L224.00,446.72 L224.50,446.74 L225.00,448.80 L225.50,447.17 L226.00,446.99 L226.50,447.26 L227.00,448.25 L227.50,446.96 L228.00,445.19 L228.50,449.35 L229.00,445.19 L229.50,447.56 L230.00,445.11 L230.50,445.98 L231.00,445.28 L231.50,447.24 L232.00,445.98 L232.50,446.03 L233.00,443.08 L233.50,441.93 L234.00,443.41 L234.50,442.50 L235.00,442.53 L235.50,442.33 L236.00,438.52 L236.50,439.19 L237.00,437.31 L237.50,438.75 L238.00,437.67 L238.50,439.21 L239.00,441.53 L239.50,441.73 L240.00,438.33 L240.50,443.83 L241.00,444.90 L241.50,441.42 L242.00,446.13 L242.50,441.56 L243.00,441.91 L243.50,437.57 L244.00,443.34 L244.50,441.10 L245.00,438.18 L245.50,437.49 L246.00,436.93 L246.50,442.01 L247.00,436.33 L247.50,438.38 L248.00,436.31 L248.50,433.70 L249.00,432.59 L249.50,430.73 L250.00,429.01 L250.50,426.77 L251.00,425.95 L251.50,420.43" fill="none" stroke="#b8b8b8" stroke-width="1.4" stroke-linejoin="round"/>
<path d="M290.00,467.60 L290.00,467.54 L290.60,466.98 L291.20,467.21 L291.80,467.49 L292.40,466.60 L293.00,467.44 L293.60,467.47 L294.20,466.27 L294.80,466.71 L295.40,467.02 L296.00,467.30 L296.60,467.60 L297.20,466.70 L297.80,466.67 L298.40,466.25 L299.00,466.42 L299.60,466.38 L300.20,466.27 L300.80,466.07 L301.40,465.68 L302.00,466.70 L302.60,465.90 L303.20,466.21 L303.80,466.47 L304.40,466.60 L305.00,466.19 L305.60,466.17 L306.20,466.37 L306.80,466.61 L307.40,466.37 L308.00,465.85 L308.60,465.80 L309.20,465.97 L309.80,465.59 L310.40,465.85 L311.00,465.92 L311.60,465.59 L312.20,464.69 L312.80,466.25 L313.40,464.54 L314.00,464.95 L314.60,464.04 L315.20,464.58 L315.80,464.87 L316.40,465.33 L317.00,464.72 L317.60,463.91 L318.20,464.55 L318.80,463.07 L319.40,464.41 L320.00,464.06 L320.60,463.40 L321.20,463.24 L321.80,464.32 L322.40,462.37 L323.00,462.86 L323.60,463.10 L324.20,462.31 L324.80,462.14 L325.40,462.27 L326.00,459.60 L326.60,460.99 L327.20,458.87 L327.80,460.12 L328.40,459.78 L329.00,458.35 L329.60,458.18 L330.20,457.04 L330.80,455.39 L331.40,455.10 L332.00,456.00 L332.60,453.43 L333.20,452.69 L333.80,449.55 L334.40,450.96 L335.00,448.87 L335.60,448.01 L336.20,444.45 L336.80,443.56 L337.40,442.82 L338.00,440.27 L338.60,436.01 L339.20,433.63 L339.80,434.92 L340.40,432.68 L341.00,429.35 L341.60,424.67 L342.20,423.05 L342.80,417.39 L343.40,411.33 L344.00,407.60 L344.60,399.89 L345.20,403.25 L345.80,395.24 L346.40,396.40 L347.00,395.05 L347.60,387.30 L348.20,390.85 L348.80,385.52 L349.40,385.49 L350.00,387.92 L350.60,385.06 L351.20,390.47 L351.80,391.01 L352.40,394.58 L353.00,396.11 L353.60,394.04 L354.20,395.78 L354.80,399.59 L355.40,389.75 L356.00,395.09 L356.60,396.80 L357.20,400.06 L357.80,403.35 L358.40,406.61 L359.00,407.52 L359.60,413.65 L360.20,417.03 L360.80,419.96 L361.40,422.26 L362.00,427.60 L362.60,431.94 L363.20,434.59 L363.80,432.80 L364.40,436.92 L365.00,441.40 L365.60,443.98 L366.20,445.14 L366.80,447.16 L367.40,449.22 L368.00,448.79 L368.60,449.39 L369.20,450.27 L369.80,450.28 L370.40,454.76 L371.00,453.77 L371.60,453.97 L372.20,450.99 L372.80,454.54 L373.40,455.10 L374.00,455.35 L374.60,455.55 L375.20,455.53 L375.80,455.76 L376.40,455.23 L377.00,457.13 L377.60,455.69 L378.20,456.30 L378.80,456.44 L379.40,455.01 L380.00,456.18 L380.60,457.66 L381.20,457.06 L381.80,456.43 L382.40,457.49 L383.00,457.47 L383.60,458.24 L384.20,458.23 L384.80,457.96 L385.40,456.75 L386.00,456.84 L386.60,456.05 L387.20,456.78 L387.80,456.55 L388.40,456.51 L389.00,456.91 L389.60,454.89 L390.20,456.35 L390.80,456.37 L391.40,457.97 L392.00,458.91 L392.60,459.24 L393.20,458.95 L393.80,462.26 L394.40,461.50 L395.00,461.72 L395.60,463.18 L396.20,462.04 L396.80,463.25 L397.40,463.15 L398.00,462.85 L398.60,463.80 L399.20,462.72 L399.80,463.05 L400.40,463.68 L401.00,465.20 L401.60,464.96 L402.20,464.98 L402.80,465.25 L403.40,465.42 L404.00,465.29 L404.60,466.24 L405.20,467.04 L405.80,466.03 L406.40,466.18 L407.00,466.39 L407.60,466.60 L408.20,466.90 L408.80,467.60 L409.40,467.19 L410.00,467.20 L410.60,466.11 L411.20,467.33 L411.80,467.36 L412.40,467.60 L413.00,467.04 L413.60,467.01 L414.20,467.52 L414.80,466.91 L415.40,467.17 L416.00,467.41 L416.60,467.36 L417.20,467.60 L417.80,466.76 L418.40,467.14 L419.00,467.17 L419.60,467.60 L420.20,467.53 L420.80,467.22 L421.40,467.06 L422.00,467.60 L422.60,467.15 L423.20,467.10 L423.80,467.07 L424.40,467.60 L425.00,467.60 L425.60,467.12 L426.20,467.60 L426.80,466.77 L427.40,467.15 L428.00,467.60 L428.60,467.05 L429.20,466.78 L429.80,467.21 L430.40,467.29 L431.00,467.13 L431.60,467.24 L432.20,466.45 L432.80,467.59 L433.40,467.47 L434.00,467.16 L434.60,467.15 L435.20,466.72 L435.80,467.11 L436.40,467.07 L437.00,466.40 L437.60,467.10 L438.20,467.47 L438.80,467.57 L439.40,467.60 L440.00,467.40 L440.60,467.27 L441.20,467.59 L441.80,467.16 L442.40,467.47 L443.00,467.27 L443.60,467.60 L444.20,467.60 L444.80,466.95 L445.40,467.22 L446.00,467.22 L446.60,467.60 L447.20,467.57 L447.80,467.10 L448.40,467.49 L449.00,467.48 L449.60,467.25 L450.20,467.60 L450.80,467.35 L451.40,466.87 L452.00,467.31 L452.60,467.44 L453.20,466.56 L453.80,467.17 L454.40,466.98 L455.00,467.56 L455.60,467.58 L456.20,467.10 L456.80,467.57 L457.40,467.21 L458.00,467.06 L458.60,467.56 L459.20,466.62 L459.80,467.39 L460.40,466.52 L461.00,467.60 L461.60,467.51 L462.20,467.11 L462.80,467.60 L463.40,467.20 L464.00,466.56 L464.60,467.47 L465.20,467.16 L465.80,466.61 L466.40,467.15 L467.00,466.96 L467.60,466.45 L468.20,467.52 L468.80,467.28 L469.40,466.65 L470.00,467.54 L470.60,467.59 L471.20,467.60 L471.80,467.56 L472.40,467.58 L473.00,467.21 L473.60,467.37 L474.20,466.26 L474.80,467.60 L475.40,467.57 L476.00,467.60 L476.60,466.38 L477.20,466.72 L477.80,467.10 L478.40,467.26 L479.00,467.33 L479.60,467.05 L480.20,467.60 L480.80,467.23 L481.40,466.52 L482.00,467.38 L482.60,467.60 L483.20,466.45 L483.80,466.98 L484.40,467.60 L485.00,467.33 L485.60,467.60 L486.20,467.16 L486.80,467.19 L487.40,467.25 L488.00,467.30 L488.60,466.45 L489.20,466.59 L489.80,466.31 L490.40,467.46 L491.00,467.25 L491.60,467.54 L492.20,467.16 L492.80,467.44 L493.40,467.60 L494.00,467.16 L494.60,467.46 L495.20,467.59 L495.80,467.31 L496.40,467.38 L497.00,467.60 L497.60,467.60 L498.20,467.07 L498.80,467.60 L499.40,467.45 L500.00,466.98 L500.60,467.18 L501.20,467.60 L501.80,467.60 L502.40,466.67 L503.00,467.60 L503.60,467.42 L504.20,467.43 L504.80,467.25 L505.40,467.50 L506.00,467.60 L506.60,466.67 L507.20,467.11 L507.80,467.60 L508.40,467.12 L509.00,467.22 L509.60,467.20 L510.20,467.51 L510.80,466.72 L511.40,467.31 L512.00,467.58 L512.60,467.60 L512.60,467.60 Z" fill="#232323" stroke="#232323" stroke-width="0.4"/>
<path d="M290.00,467.11 L290.50,467.18 L291.00,466.37 L291.50,466.91 L292.00,467.60 L292.50,467.08 L293.00,467.34 L293.50,466.15 L294.00,466.81 L294.50,467.06 L295.00,467.32 L295.50,466.09 L296.00,466.93 L296.50,466.66 L297.00,466.91 L297.50,466.77 L298.00,466.29 L298.50,467.25 L299.00,465.90 L299.50,466.87 L300.00,466.98 L300.50,467.15 L301.00,466.47 L301.50,465.27 L302.00,466.29 L302.50,465.98 L303.00,465.85 L303.50,466.22 L304.00,466.29 L304.50,465.89 L305.00,465.78 L305.50,465.56 L306.00,465.76 L306.50,465.54 L307.00,466.62 L307.50,467.29 L308.00,466.81 L308.50,464.68 L309.00,465.68 L309.50,466.63 L310.00,465.93 L310.50,466.16 L311.00,466.56 L311.50,466.24 L312.00,465.37 L312.50,465.58 L313.00,465.16 L313.50,465.43 L314.00,465.19 L314.50,465.01 L315.00,464.71 L315.50,463.26 L316.00,464.32 L316.50,465.28 L317.00,464.25 L317.50,465.03 L318.00,463.64 L318.50,464.24 L319.00,464.21 L319.50,463.58 L320.00,464.63 L320.50,463.72 L321.00,465.10 L321.50,464.66 L322.00,462.84 L322.50,462.64 L323.00,464.85 L323.50,464.32 L324.00,463.18 L324.50,462.94 L325.00,463.22 L325.50,464.12 L326.00,462.60 L326.50,462.48 L327.00,462.69 L327.50,463.35 L328.00,463.42 L328.50,462.54 L329.00,461.57 L329.50,463.03 L330.00,461.78 L330.50,461.42 L331.00,463.51 L331.50,458.02 L332.00,461.95 L332.50,462.80 L333.00,462.41 L333.50,459.80 L334.00,461.27 L334.50,460.48 L335.00,459.22 L335.50,460.81 L336.00,460.31 L336.50,460.84 L337.00,459.34 L337.50,458.78 L338.00,459.28 L338.50,458.05 L339.00,458.88 L339.50,459.75 L340.00,457.81 L340.50,456.95 L341.00,456.78 L341.50,457.08 L342.00,458.84 L342.50,456.81 L343.00,456.25 L343.50,457.33 L344.00,458.14 L344.50,454.01 L345.00,456.26 L345.50,455.92 L346.00,455.26 L346.50,454.62 L347.00,453.23 L347.50,453.94 L348.00,452.82 L348.50,452.44 L349.00,453.66 L349.50,451.49 L350.00,453.26 L350.50,452.03 L351.00,449.81 L351.50,451.35 L352.00,451.64 L352.50,452.70 L353.00,450.70 L353.50,449.72 L354.00,447.24 L354.50,445.77 L355.00,447.27 L355.50,446.20 L356.00,448.05 L356.50,444.58 L357.00,448.63 L357.50,447.17 L358.00,446.60 L358.50,447.14 L359.00,448.30 L359.50,450.02 L360.00,445.74 L360.50,446.34 L361.00,452.01 L361.50,445.93 L362.00,445.40 L362.50,445.15 L363.00,449.49 L363.50,447.90 L364.00,446.04 L364.50,447.67 L365.00,447.47 L365.50,449.27 L366.00,448.36 L366.50,444.93 L367.00,447.78 L367.50,451.44 L368.00,449.89 L368.50,446.19 L369.00,447.76 L369.50,451.36 L370.00,449.91 L370.50,450.05 L371.00,453.44 L371.50,448.62 L372.00,449.10 L372.50,451.08 L373.00,449.86 L373.50,448.52 L374.00,448.09 L374.50,448.47 L375.00,447.13 L375.50,445.58 L376.00,446.32 L376.50,443.28 L377.00,448.52 L377.50,445.39 L378.00,445.56 L378.50,444.98 L379.00,441.62 L379.50,444.60 L380.00,446.70 L380.50,445.38 L381.00,443.42 L381.50,443.81 L382.00,442.43 L382.50,438.41 L383.00,443.65 L383.50,443.15 L384.00,438.46 L384.50,436.12 L385.00,436.22 L385.50,432.84 L386.00,428.03 L386.50,431.44 L387.00,427.19 L387.50,425.36 L388.00,421.89 L388.50,420.68 L389.00,422.72 L389.50,429.22 L390.00,424.55 L390.50,423.13 L391.00,423.74 L391.50,427.89 L392.00,423.30 L392.50,422.36 L393.00,422.91 L393.50,421.95 L394.00,422.04 L394.50,419.08 L395.00,420.38 L395.50,418.12 L396.00,422.30 L396.50,424.68 L397.00,422.87 L397.50,422.62 L398.00,414.87 L398.50,421.58 L399.00,419.89 L399.50,420.06 L400.00,423.17 L400.50,419.09 L401.00,420.20 L401.50,421.51 L402.00,418.74 L402.50,421.62 L403.00,414.15 L403.50,414.52 L404.00,420.31 L404.50,416.70 L405.00,416.41 L405.50,417.94 L406.00,423.50 L406.50,420.81 L407.00,420.79 L407.50,429.44 L408.00,426.99 L408.50,424.29 L409.00,425.58 L409.50,419.20 L410.00,427.64 L410.50,426.72 L411.00,423.78 L411.50,425.29 L412.00,425.82 L412.50,423.64 L413.00,428.82 L413.50,422.71 L414.00,428.16 L414.50,431.64 L415.00,425.46 L415.50,422.46 L416.00,422.12 L416.50,424.26 L417.00,426.82 L417.50,426.63 L418.00,426.97 L418.50,430.13 L419.00,430.23 L419.50,430.67 L420.00,429.52 L420.50,431.32 L421.00,432.29 L421.50,429.25 L422.00,427.38 L422.50,432.92 L423.00,431.02 L423.50,429.80 L424.00,433.02 L424.50,432.33 L425.00,439.56 L425.50,432.86 L426.00,437.33 L426.50,435.93 L427.00,434.36 L427.50,437.01 L428.00,437.41 L428.50,436.77 L429.00,442.59 L429.50,435.30 L430.00,440.00 L430.50,438.47 L431.00,441.17 L431.50,442.95 L432.00,442.31 L432.50,443.07 L433.00,445.36 L433.50,444.65 L434.00,444.12 L434.50,443.04 L435.00,443.95 L435.50,447.58 L436.00,446.20 L436.50,448.74 L437.00,447.89 L437.50,447.44 L438.00,448.68 L438.50,451.74 L439.00,451.81 L439.50,451.08 L440.00,454.50 L440.50,455.56 L441.00,450.34 L441.50,457.52 L442.00,454.57 L442.50,453.54 L443.00,454.96 L443.50,454.66 L444.00,458.60 L444.50,459.68 L445.00,458.36 L445.50,459.88 L446.00,461.16 L446.50,462.46 L447.00,461.63 L447.50,461.29 L448.00,463.47 L448.50,462.17 L449.00,462.75 L449.50,462.98 L450.00,463.17 L450.50,463.82 L451.00,463.77 L451.50,463.70 L452.00,465.38 L452.50,463.28 L453.00,464.28 L453.50,465.77 L454.00,464.19 L454.50,465.43 L455.00,462.59 L455.50,463.95 L456.00,464.33 L456.50,464.07 L457.00,465.57 L457.50,464.13 L458.00,464.15 L458.50,464.61 L459.00,465.53 L459.50,465.15 L460.00,464.52 L460.50,462.94 L461.00,464.76 L461.50,464.97 L462.00,465.09 L462.50,463.50 L463.00,463.42 L463.50,465.19 L464.00,465.24 L464.50,464.27 L465.00,465.13 L465.50,464.70 L466.00,464.13 L466.50,465.48 L467.00,465.20 L467.50,465.48 L468.00,465.89 L468.50,465.88 L469.00,465.98 L469.50,465.87 L470.00,465.32 L470.50,465.85 L471.00,466.08 L471.50,466.40 L472.00,467.60 L472.50,466.46 L473.00,466.26 L473.50,467.15 L474.00,466.66 L474.50,466.74 L475.00,466.27 L475.50,466.79 L476.00,466.38 L476.50,466.97 L477.00,466.82 L477.50,466.64 L478.00,467.60 L478.50,466.86 L479.00,466.72 L479.50,466.89 L480.00,467.29 L480.50,466.30 L481.00,466.25 L481.50,466.58 L482.00,466.94 L482.50,466.04 L483.00,466.09 L483.50,466.08 L484.00,466.51 L484.50,467.41 L485.00,466.94 L485.50,467.42 L486.00,466.48 L486.50,467.11 L487.00,466.99 L487.50,466.24 L488.00,466.95 L488.50,467.47 L489.00,466.10 L489.50,466.99 L490.00,466.32 L490.50,466.47 L491.00,466.30 L491.50,466.47 L492.00,466.94 L492.50,466.75 L493.00,466.86 L493.50,466.95 L494.00,466.46 L494.50,466.30 L495.00,467.00 L495.50,466.04 L496.00,467.42 L496.50,467.60 L497.00,467.60 L497.50,466.63 L498.00,466.55 L498.50,466.75 L499.00,466.64 L499.50,467.60 L500.00,466.83 L500.50,467.54 L501.00,466.85 L501.50,466.27 L502.00,466.42 L502.50,467.55 L503.00,466.86 L503.50,467.20 L504.00,467.14 L504.50,467.60 L505.00,467.60 L505.50,466.62 L506.00,466.73 L506.50,467.30 L507.00,466.55 L507.50,466.88 L508.00,467.60 L508.50,467.29 L509.00,466.23 L509.50,467.22 L510.00,466.76 L510.50,467.40 L511.00,466.75 L511.50,467.37 L512.00,466.81 L512.50,467.11 L513.00,467.60" fill="none" stroke="#b8b8b8" stroke-width="1.4" stroke-linejoin="round"/>
<line x1="19.00" y1="107.60" x2="244.30" y2="107.60" stroke="#3c3c3c" stroke-width="1.15"/>
<line x1="243.80" y1="107.60" x2="243.80" y2="183.30" stroke="#555" stroke-width="1.1"/>
<line x1="19.00" y1="107.10" x2="19.00" y2="183.80" stroke="#777" stroke-width="0.8"/>
<line x1="16.00" y1="183.30" x2="19.00" y2="183.30" stroke="#111" stroke-width="1.0"/>
<line x1="17.00" y1="180.27" x2="19.00" y2="180.27" stroke="#111" stroke-width="1.0"/>
<line x1="17.00" y1="177.24" x2="19.00" y2="177.24" stroke="#111" stroke-width="1.0"/>
<line x1="17.00" y1="174.22" x2="19.00" y2="174.22" stroke="#111" stroke-width="1.0"/>
<line x1="17.00" y1="171.19" x2="19.00" y2="171.19" stroke="#111" stroke-width="1.0"/>
<line x1="16.00" y1="168.16" x2="19.00" y2="168.16" stroke="#111" stroke-width="1.0"/>
<line x1="17.00" y1="165.13" x2="19.00" y2="165.13" stroke="#111" stroke-width="1.0"/>
<line x1="17.00" y1="162.10" x2="19.00" y2="162.10" stroke="#111" stroke-width="1.0"/>
<line x1="17.00" y1="159.08" x2="19.00" y2="159.08" stroke="#111" stroke-width="1.0"/>
<line x1="17.00" y1="156.05" x2="19.00" y2="156.05" stroke="#111" stroke-width="1.0"/>
<line x1="16.00" y1="153.02" x2="19.00" y2="153.02" stroke="#111" stroke-width="1.0"/>
<line x1="17.00" y1="149.99" x2="19.00" y2="149.99" stroke="#111" stroke-width="1.0"/>
<line x1="17.00" y1="146.96" x2="19.00" y2="146.96" stroke="#111" stroke-width="1.0"/>
<line x1="17.00" y1="143.94" x2="19.00" y2="143.94" stroke="#111" stroke-width="1.0"/>
<line x1="17.00" y1="140.91" x2="19.00" y2="140.91" stroke="#111" stroke-width="1.0"/>
<line x1="16.00" y1="137.88" x2="19.00" y2="137.88" stroke="#111" stroke-width="1.0"/>
<line x1="17.00" y1="134.85" x2="19.00" y2="134.85" stroke="#111" stroke-width="1.0"/>
<line x1="17.00" y1="131.82" x2="19.00" y2="131.82" stroke="#111" stroke-width="1.0"/>
<line x1="17.00" y1="128.80" x2="19.00" y2="128.80" stroke="#111" stroke-width="1.0"/>
<line x1="17.00" y1="125.77" x2="19.00" y2="125.77" stroke="#111" stroke-width="1.0"/>
<line x1="16.00" y1="122.74" x2="19.00" y2="122.74" stroke="#111" stroke-width="1.0"/>
<line x1="17.00" y1="119.71" x2="19.00" y2="119.71" stroke="#111" stroke-width="1.0"/>
<line x1="17.00" y1="116.68" x2="19.00" y2="116.68" stroke="#111" stroke-width="1.0"/>
<line x1="17.00" y1="113.66" x2="19.00" y2="113.66" stroke="#111" stroke-width="1.0"/>
<line x1="17.00" y1="110.63" x2="19.00" y2="110.63" stroke="#111" stroke-width="1.0"/>
<line x1="16.00" y1="107.60" x2="19.00" y2="107.60" stroke="#111" stroke-width="1.0"/>
<line x1="18.50" y1="183.30" x2="244.30" y2="183.30" stroke="#000" stroke-width="1.4"/>
<line x1="19.00" y1="183.30" x2="19.00" y2="187.10" stroke="#111" stroke-width="0.9"/>
<line x1="35.92" y1="183.30" x2="35.92" y2="185.70" stroke="#111" stroke-width="0.9"/>
<line x1="45.81" y1="183.30" x2="45.81" y2="185.70" stroke="#111" stroke-width="0.9"/>
<line x1="52.84" y1="183.30" x2="52.84" y2="185.70" stroke="#111" stroke-width="0.9"/>
<line x1="58.28" y1="183.30" x2="58.28" y2="185.70" stroke="#111" stroke-width="0.9"/>
<line x1="62.73" y1="183.30" x2="62.73" y2="185.70" stroke="#111" stroke-width="0.9"/>
<line x1="66.49" y1="183.30" x2="66.49" y2="185.70" stroke="#111" stroke-width="0.9"/>
<line x1="69.75" y1="183.30" x2="69.75" y2="185.70" stroke="#111" stroke-width="0.9"/>
<line x1="72.63" y1="183.30" x2="72.63" y2="185.70" stroke="#111" stroke-width="0.9"/>
<line x1="75.20" y1="183.30" x2="75.20" y2="187.10" stroke="#111" stroke-width="0.9"/>
<line x1="92.12" y1="183.30" x2="92.12" y2="185.70" stroke="#111" stroke-width="0.9"/>
<line x1="102.01" y1="183.30" x2="102.01" y2="185.70" stroke="#111" stroke-width="0.9"/>
<line x1="109.04" y1="183.30" x2="109.04" y2="185.70" stroke="#111" stroke-width="0.9"/>
<line x1="114.48" y1="183.30" x2="114.48" y2="185.70" stroke="#111" stroke-width="0.9"/>
<line x1="118.93" y1="183.30" x2="118.93" y2="185.70" stroke="#111" stroke-width="0.9"/>
<line x1="122.69" y1="183.30" x2="122.69" y2="185.70" stroke="#111" stroke-width="0.9"/>
<line x1="125.95" y1="183.30" x2="125.95" y2="185.70" stroke="#111" stroke-width="0.9"/>
<line x1="128.83" y1="183.30" x2="128.83" y2="185.70" stroke="#111" stroke-width="0.9"/>
<line x1="131.40" y1="183.30" x2="131.40" y2="187.10" stroke="#111" stroke-width="0.9"/>
<line x1="148.32" y1="183.30" x2="148.32" y2="185.70" stroke="#111" stroke-width="0.9"/>
<line x1="158.21" y1="183.30" x2="158.21" y2="185.70" stroke="#111" stroke-width="0.9"/>
<line x1="165.24" y1="183.30" x2="165.24" y2="185.70" stroke="#111" stroke-width="0.9"/>
<line x1="170.68" y1="183.30" x2="170.68" y2="185.70" stroke="#111" stroke-width="0.9"/>
<line x1="175.13" y1="183.30" x2="175.13" y2="185.70" stroke="#111" stroke-width="0.9"/>
<line x1="178.89" y1="183.30" x2="178.89" y2="185.70" stroke="#111" stroke-width="0.9"/>
<line x1="182.15" y1="183.30" x2="182.15" y2="185.70" stroke="#111" stroke-width="0.9"/>
<line x1="185.03" y1="183.30" x2="185.03" y2="185.70" stroke="#111" stroke-width="0.9"/>
<line x1="187.60" y1="183.30" x2="187.60" y2="187.10" stroke="#111" stroke-width="0.9"/>
<line x1="204.52" y1="183.30" x2="204.52" y2="185.70" stroke="#111" stroke-width="0.9"/>
<line x1="214.41" y1="183.30" x2="214.41" y2="185.70" stroke="#111" stroke-width="0.9"/>
<line x1="221.44" y1="183.30" x2="221.44" y2="185.70" stroke="#111" stroke-width="0.9"/>
<line x1="226.88" y1="183.30" x2="226.88" y2="185.70" stroke="#111" stroke-width="0.9"/>
<line x1="231.33" y1="183.30" x2="231.33" y2="185.70" stroke="#111" stroke-width="0.9"/>
<line x1="235.09" y1="183.30" x2="235.09" y2="185.70" stroke="#111" stroke-width="0.9"/>
<line x1="238.35" y1="183.30" x2="238.35" y2="185.70" stroke="#111" stroke-width="0.9"/>
<line x1="241.23" y1="183.30" x2="241.23" y2="185.70" stroke="#111" stroke-width="0.9"/>
<line x1="243.80" y1="183.30" x2="243.80" y2="187.10" stroke="#111" stroke-width="0.9"/>
<text transform="translate(13.90,185.57) rotate(-90)" font-size="6.573947368421053" fill="#222" stroke="#222" stroke-width="0.15">0</text>
<text transform="translate(13.90,172.14) rotate(-90)" font-size="6.573947368421053" fill="#222" stroke="#222" stroke-width="0.15">10</text>
<text transform="translate(13.90,157.08) rotate(-90)" font-size="6.573947368421053" fill="#222" stroke="#222" stroke-width="0.15">20</text>
<text transform="translate(13.90,141.98) rotate(-90)" font-size="6.573947368421053" fill="#222" stroke="#222" stroke-width="0.15">30</text>
<text transform="translate(13.90,126.89) rotate(-90)" font-size="6.573947368421053" fill="#222" stroke="#222" stroke-width="0.15">40</text>
<text transform="translate(13.90,111.70) rotate(-90)" font-size="6.573947368421053" fill="#222" stroke="#222" stroke-width="0.15">50</text>
<text transform="translate(7.64,147.57) rotate(-90)" font-size="6.97" fill="#222" text-anchor="middle">Counts</text>
<text transform="translate(13.84,195.25) scale(0.800,1.000)" font-size="7.87" font-weight="normal" fill="#111">10</text>
<text transform="translate(20.68,192.26) scale(0.8,1)" font-size="6.97" fill="#222" stroke="#222" stroke-width="0.12">0</text>
<text transform="translate(70.04,195.25) scale(0.800,1.000)" font-size="7.87" font-weight="normal" fill="#111">10</text>
<text transform="translate(76.68,192.26) scale(0.8,1)" font-size="6.97" fill="#222" stroke="#222" stroke-width="0.12">1</text>
<text transform="translate(126.24,195.25) scale(0.800,1.000)" font-size="7.87" font-weight="normal" fill="#111">10</text>
<text transform="translate(133.02,192.26) scale(0.8,1)" font-size="6.97" fill="#222" stroke="#222" stroke-width="0.12">2</text>
<text transform="translate(182.44,195.25) scale(0.800,1.000)" font-size="7.87" font-weight="normal" fill="#111">10</text>
<text transform="translate(189.29,192.26) scale(0.8,1)" font-size="6.97" fill="#222" stroke="#222" stroke-width="0.12">3</text>
<text transform="translate(238.64,195.25) scale(0.800,1.000)" font-size="7.87" font-weight="normal" fill="#111">10</text>
<text transform="translate(245.57,192.26) scale(0.8,1)" font-size="6.97" fill="#222" stroke="#222" stroke-width="0.12">4</text>
<text transform="translate(131.40,201.63) scale(0.9,1)" font-size="6.37" fill="#222" text-anchor="middle">APC</text>
<line x1="287.30" y1="108.30" x2="506.20" y2="108.30" stroke="#3c3c3c" stroke-width="1.15"/>
<line x1="505.70" y1="108.30" x2="505.70" y2="184.40" stroke="#555" stroke-width="1.1"/>
<line x1="287.30" y1="107.80" x2="287.30" y2="184.90" stroke="#777" stroke-width="0.8"/>
<line x1="284.30" y1="184.40" x2="287.30" y2="184.40" stroke="#111" stroke-width="1.0"/>
<line x1="285.30" y1="181.36" x2="287.30" y2="181.36" stroke="#111" stroke-width="1.0"/>
<line x1="285.30" y1="178.31" x2="287.30" y2="178.31" stroke="#111" stroke-width="1.0"/>
<line x1="285.30" y1="175.27" x2="287.30" y2="175.27" stroke="#111" stroke-width="1.0"/>
<line x1="285.30" y1="172.22" x2="287.30" y2="172.22" stroke="#111" stroke-width="1.0"/>
<line x1="284.30" y1="169.18" x2="287.30" y2="169.18" stroke="#111" stroke-width="1.0"/>
<line x1="285.30" y1="166.14" x2="287.30" y2="166.14" stroke="#111" stroke-width="1.0"/>
<line x1="285.30" y1="163.09" x2="287.30" y2="163.09" stroke="#111" stroke-width="1.0"/>
<line x1="285.30" y1="160.05" x2="287.30" y2="160.05" stroke="#111" stroke-width="1.0"/>
<line x1="285.30" y1="157.00" x2="287.30" y2="157.00" stroke="#111" stroke-width="1.0"/>
<line x1="284.30" y1="153.96" x2="287.30" y2="153.96" stroke="#111" stroke-width="1.0"/>
<line x1="285.30" y1="150.92" x2="287.30" y2="150.92" stroke="#111" stroke-width="1.0"/>
<line x1="285.30" y1="147.87" x2="287.30" y2="147.87" stroke="#111" stroke-width="1.0"/>
<line x1="285.30" y1="144.83" x2="287.30" y2="144.83" stroke="#111" stroke-width="1.0"/>
<line x1="285.30" y1="141.78" x2="287.30" y2="141.78" stroke="#111" stroke-width="1.0"/>
<line x1="284.30" y1="138.74" x2="287.30" y2="138.74" stroke="#111" stroke-width="1.0"/>
<line x1="285.30" y1="135.70" x2="287.30" y2="135.70" stroke="#111" stroke-width="1.0"/>
<line x1="285.30" y1="132.65" x2="287.30" y2="132.65" stroke="#111" stroke-width="1.0"/>
<line x1="285.30" y1="129.61" x2="287.30" y2="129.61" stroke="#111" stroke-width="1.0"/>
<line x1="285.30" y1="126.56" x2="287.30" y2="126.56" stroke="#111" stroke-width="1.0"/>
<line x1="284.30" y1="123.52" x2="287.30" y2="123.52" stroke="#111" stroke-width="1.0"/>
<line x1="285.30" y1="120.48" x2="287.30" y2="120.48" stroke="#111" stroke-width="1.0"/>
<line x1="285.30" y1="117.43" x2="287.30" y2="117.43" stroke="#111" stroke-width="1.0"/>
<line x1="285.30" y1="114.39" x2="287.30" y2="114.39" stroke="#111" stroke-width="1.0"/>
<line x1="285.30" y1="111.34" x2="287.30" y2="111.34" stroke="#111" stroke-width="1.0"/>
<line x1="284.30" y1="108.30" x2="287.30" y2="108.30" stroke="#111" stroke-width="1.0"/>
<line x1="286.80" y1="184.40" x2="506.20" y2="184.40" stroke="#000" stroke-width="1.4"/>
<line x1="287.30" y1="184.40" x2="287.30" y2="188.20" stroke="#111" stroke-width="0.9"/>
<line x1="303.74" y1="184.40" x2="303.74" y2="186.80" stroke="#111" stroke-width="0.9"/>
<line x1="313.35" y1="184.40" x2="313.35" y2="186.80" stroke="#111" stroke-width="0.9"/>
<line x1="320.17" y1="184.40" x2="320.17" y2="186.80" stroke="#111" stroke-width="0.9"/>
<line x1="325.46" y1="184.40" x2="325.46" y2="186.80" stroke="#111" stroke-width="0.9"/>
<line x1="329.79" y1="184.40" x2="329.79" y2="186.80" stroke="#111" stroke-width="0.9"/>
<line x1="333.44" y1="184.40" x2="333.44" y2="186.80" stroke="#111" stroke-width="0.9"/>
<line x1="336.61" y1="184.40" x2="336.61" y2="186.80" stroke="#111" stroke-width="0.9"/>
<line x1="339.40" y1="184.40" x2="339.40" y2="186.80" stroke="#111" stroke-width="0.9"/>
<line x1="341.90" y1="184.40" x2="341.90" y2="188.20" stroke="#111" stroke-width="0.9"/>
<line x1="358.34" y1="184.40" x2="358.34" y2="186.80" stroke="#111" stroke-width="0.9"/>
<line x1="367.95" y1="184.40" x2="367.95" y2="186.80" stroke="#111" stroke-width="0.9"/>
<line x1="374.77" y1="184.40" x2="374.77" y2="186.80" stroke="#111" stroke-width="0.9"/>
<line x1="380.06" y1="184.40" x2="380.06" y2="186.80" stroke="#111" stroke-width="0.9"/>
<line x1="384.39" y1="184.40" x2="384.39" y2="186.80" stroke="#111" stroke-width="0.9"/>
<line x1="388.04" y1="184.40" x2="388.04" y2="186.80" stroke="#111" stroke-width="0.9"/>
<line x1="391.21" y1="184.40" x2="391.21" y2="186.80" stroke="#111" stroke-width="0.9"/>
<line x1="394.00" y1="184.40" x2="394.00" y2="186.80" stroke="#111" stroke-width="0.9"/>
<line x1="396.50" y1="184.40" x2="396.50" y2="188.20" stroke="#111" stroke-width="0.9"/>
<line x1="412.94" y1="184.40" x2="412.94" y2="186.80" stroke="#111" stroke-width="0.9"/>
<line x1="422.55" y1="184.40" x2="422.55" y2="186.80" stroke="#111" stroke-width="0.9"/>
<line x1="429.37" y1="184.40" x2="429.37" y2="186.80" stroke="#111" stroke-width="0.9"/>
<line x1="434.66" y1="184.40" x2="434.66" y2="186.80" stroke="#111" stroke-width="0.9"/>
<line x1="438.99" y1="184.40" x2="438.99" y2="186.80" stroke="#111" stroke-width="0.9"/>
<line x1="442.64" y1="184.40" x2="442.64" y2="186.80" stroke="#111" stroke-width="0.9"/>
<line x1="445.81" y1="184.40" x2="445.81" y2="186.80" stroke="#111" stroke-width="0.9"/>
<line x1="448.60" y1="184.40" x2="448.60" y2="186.80" stroke="#111" stroke-width="0.9"/>
<line x1="451.10" y1="184.40" x2="451.10" y2="188.20" stroke="#111" stroke-width="0.9"/>
<line x1="467.54" y1="184.40" x2="467.54" y2="186.80" stroke="#111" stroke-width="0.9"/>
<line x1="477.15" y1="184.40" x2="477.15" y2="186.80" stroke="#111" stroke-width="0.9"/>
<line x1="483.97" y1="184.40" x2="483.97" y2="186.80" stroke="#111" stroke-width="0.9"/>
<line x1="489.26" y1="184.40" x2="489.26" y2="186.80" stroke="#111" stroke-width="0.9"/>
<line x1="493.59" y1="184.40" x2="493.59" y2="186.80" stroke="#111" stroke-width="0.9"/>
<line x1="497.24" y1="184.40" x2="497.24" y2="186.80" stroke="#111" stroke-width="0.9"/>
<line x1="500.41" y1="184.40" x2="500.41" y2="186.80" stroke="#111" stroke-width="0.9"/>
<line x1="503.20" y1="184.40" x2="503.20" y2="186.80" stroke="#111" stroke-width="0.9"/>
<line x1="505.70" y1="184.40" x2="505.70" y2="188.20" stroke="#111" stroke-width="0.9"/>
<text transform="translate(282.20,186.68) rotate(-90)" font-size="6.608684210526317" fill="#222" stroke="#222" stroke-width="0.15">0</text>
<text transform="translate(282.20,173.17) rotate(-90)" font-size="6.608684210526317" fill="#222" stroke="#222" stroke-width="0.15">10</text>
<text transform="translate(282.20,158.04) rotate(-90)" font-size="6.608684210526317" fill="#222" stroke="#222" stroke-width="0.15">20</text>
<text transform="translate(282.20,142.86) rotate(-90)" font-size="6.608684210526317" fill="#222" stroke="#222" stroke-width="0.15">30</text>
<text transform="translate(282.20,127.69) rotate(-90)" font-size="6.608684210526317" fill="#222" stroke="#222" stroke-width="0.15">40</text>
<text transform="translate(282.20,112.41) rotate(-90)" font-size="6.608684210526317" fill="#222" stroke="#222" stroke-width="0.15">50</text>
<text transform="translate(275.88,148.48) rotate(-90)" font-size="7.01" fill="#222" text-anchor="middle">Counts</text>
<text transform="translate(282.11,196.42) scale(0.800,1.000)" font-size="7.91" font-weight="normal" fill="#111">10</text>
<text transform="translate(288.98,193.41) scale(0.8,1)" font-size="7.01" fill="#222" stroke="#222" stroke-width="0.12">0</text>
<text transform="translate(336.71,196.42) scale(0.800,1.000)" font-size="7.91" font-weight="normal" fill="#111">10</text>
<text transform="translate(343.37,193.41) scale(0.8,1)" font-size="7.01" fill="#222" stroke="#222" stroke-width="0.12">1</text>
<text transform="translate(391.31,196.42) scale(0.800,1.000)" font-size="7.91" font-weight="normal" fill="#111">10</text>
<text transform="translate(398.12,193.41) scale(0.8,1)" font-size="7.01" fill="#222" stroke="#222" stroke-width="0.12">2</text>
<text transform="translate(445.91,196.42) scale(0.800,1.000)" font-size="7.91" font-weight="normal" fill="#111">10</text>
<text transform="translate(452.79,193.41) scale(0.8,1)" font-size="7.01" fill="#222" stroke="#222" stroke-width="0.12">3</text>
<text transform="translate(500.51,196.42) scale(0.800,1.000)" font-size="7.91" font-weight="normal" fill="#111">10</text>
<text transform="translate(507.47,193.41) scale(0.8,1)" font-size="7.01" fill="#222" stroke="#222" stroke-width="0.12">4</text>
<text transform="translate(396.50,202.82) scale(0.9,1)" font-size="6.41" fill="#222" text-anchor="middle">ISO PE</text>
<line x1="22.90" y1="245.70" x2="247.20" y2="245.70" stroke="#3c3c3c" stroke-width="1.15"/>
<line x1="246.70" y1="245.70" x2="246.70" y2="321.40" stroke="#555" stroke-width="1.1"/>
<line x1="22.90" y1="245.20" x2="22.90" y2="321.90" stroke="#777" stroke-width="0.8"/>
<line x1="19.90" y1="321.40" x2="22.90" y2="321.40" stroke="#111" stroke-width="1.0"/>
<line x1="20.90" y1="318.37" x2="22.90" y2="318.37" stroke="#111" stroke-width="1.0"/>
<line x1="20.90" y1="315.34" x2="22.90" y2="315.34" stroke="#111" stroke-width="1.0"/>
<line x1="20.90" y1="312.32" x2="22.90" y2="312.32" stroke="#111" stroke-width="1.0"/>
<line x1="20.90" y1="309.29" x2="22.90" y2="309.29" stroke="#111" stroke-width="1.0"/>
<line x1="19.90" y1="306.26" x2="22.90" y2="306.26" stroke="#111" stroke-width="1.0"/>
<line x1="20.90" y1="303.23" x2="22.90" y2="303.23" stroke="#111" stroke-width="1.0"/>
<line x1="20.90" y1="300.20" x2="22.90" y2="300.20" stroke="#111" stroke-width="1.0"/>
<line x1="20.90" y1="297.18" x2="22.90" y2="297.18" stroke="#111" stroke-width="1.0"/>
<line x1="20.90" y1="294.15" x2="22.90" y2="294.15" stroke="#111" stroke-width="1.0"/>
<line x1="19.90" y1="291.12" x2="22.90" y2="291.12" stroke="#111" stroke-width="1.0"/>
<line x1="20.90" y1="288.09" x2="22.90" y2="288.09" stroke="#111" stroke-width="1.0"/>
<line x1="20.90" y1="285.06" x2="22.90" y2="285.06" stroke="#111" stroke-width="1.0"/>
<line x1="20.90" y1="282.04" x2="22.90" y2="282.04" stroke="#111" stroke-width="1.0"/>
<line x1="20.90" y1="279.01" x2="22.90" y2="279.01" stroke="#111" stroke-width="1.0"/>
<line x1="19.90" y1="275.98" x2="22.90" y2="275.98" stroke="#111" stroke-width="1.0"/>
<line x1="20.90" y1="272.95" x2="22.90" y2="272.95" stroke="#111" stroke-width="1.0"/>
<line x1="20.90" y1="269.92" x2="22.90" y2="269.92" stroke="#111" stroke-width="1.0"/>
<line x1="20.90" y1="266.90" x2="22.90" y2="266.90" stroke="#111" stroke-width="1.0"/>
<line x1="20.90" y1="263.87" x2="22.90" y2="263.87" stroke="#111" stroke-width="1.0"/>
<line x1="19.90" y1="260.84" x2="22.90" y2="260.84" stroke="#111" stroke-width="1.0"/>
<line x1="20.90" y1="257.81" x2="22.90" y2="257.81" stroke="#111" stroke-width="1.0"/>
<line x1="20.90" y1="254.78" x2="22.90" y2="254.78" stroke="#111" stroke-width="1.0"/>
<line x1="20.90" y1="251.76" x2="22.90" y2="251.76" stroke="#111" stroke-width="1.0"/>
<line x1="20.90" y1="248.73" x2="22.90" y2="248.73" stroke="#111" stroke-width="1.0"/>
<line x1="19.90" y1="245.70" x2="22.90" y2="245.70" stroke="#111" stroke-width="1.0"/>
<line x1="22.40" y1="321.40" x2="247.20" y2="321.40" stroke="#000" stroke-width="1.4"/>
<line x1="22.90" y1="321.40" x2="22.90" y2="325.20" stroke="#111" stroke-width="0.9"/>
<line x1="39.74" y1="321.40" x2="39.74" y2="323.80" stroke="#111" stroke-width="0.9"/>
<line x1="49.59" y1="321.40" x2="49.59" y2="323.80" stroke="#111" stroke-width="0.9"/>
<line x1="56.59" y1="321.40" x2="56.59" y2="323.80" stroke="#111" stroke-width="0.9"/>
<line x1="62.01" y1="321.40" x2="62.01" y2="323.80" stroke="#111" stroke-width="0.9"/>
<line x1="66.44" y1="321.40" x2="66.44" y2="323.80" stroke="#111" stroke-width="0.9"/>
<line x1="70.18" y1="321.40" x2="70.18" y2="323.80" stroke="#111" stroke-width="0.9"/>
<line x1="73.43" y1="321.40" x2="73.43" y2="323.80" stroke="#111" stroke-width="0.9"/>
<line x1="76.29" y1="321.40" x2="76.29" y2="323.80" stroke="#111" stroke-width="0.9"/>
<line x1="78.85" y1="321.40" x2="78.85" y2="325.20" stroke="#111" stroke-width="0.9"/>
<line x1="95.69" y1="321.40" x2="95.69" y2="323.80" stroke="#111" stroke-width="0.9"/>
<line x1="105.54" y1="321.40" x2="105.54" y2="323.80" stroke="#111" stroke-width="0.9"/>
<line x1="112.54" y1="321.40" x2="112.54" y2="323.80" stroke="#111" stroke-width="0.9"/>
<line x1="117.96" y1="321.40" x2="117.96" y2="323.80" stroke="#111" stroke-width="0.9"/>
<line x1="122.39" y1="321.40" x2="122.39" y2="323.80" stroke="#111" stroke-width="0.9"/>
<line x1="126.13" y1="321.40" x2="126.13" y2="323.80" stroke="#111" stroke-width="0.9"/>
<line x1="129.38" y1="321.40" x2="129.38" y2="323.80" stroke="#111" stroke-width="0.9"/>
<line x1="132.24" y1="321.40" x2="132.24" y2="323.80" stroke="#111" stroke-width="0.9"/>
<line x1="134.80" y1="321.40" x2="134.80" y2="325.20" stroke="#111" stroke-width="0.9"/>
<line x1="151.64" y1="321.40" x2="151.64" y2="323.80" stroke="#111" stroke-width="0.9"/>
<line x1="161.49" y1="321.40" x2="161.49" y2="323.80" stroke="#111" stroke-width="0.9"/>
<line x1="168.49" y1="321.40" x2="168.49" y2="323.80" stroke="#111" stroke-width="0.9"/>
<line x1="173.91" y1="321.40" x2="173.91" y2="323.80" stroke="#111" stroke-width="0.9"/>
<line x1="178.34" y1="321.40" x2="178.34" y2="323.80" stroke="#111" stroke-width="0.9"/>
<line x1="182.08" y1="321.40" x2="182.08" y2="323.80" stroke="#111" stroke-width="0.9"/>
<line x1="185.33" y1="321.40" x2="185.33" y2="323.80" stroke="#111" stroke-width="0.9"/>
<line x1="188.19" y1="321.40" x2="188.19" y2="323.80" stroke="#111" stroke-width="0.9"/>
<line x1="190.75" y1="321.40" x2="190.75" y2="325.20" stroke="#111" stroke-width="0.9"/>
<line x1="207.59" y1="321.40" x2="207.59" y2="323.80" stroke="#111" stroke-width="0.9"/>
<line x1="217.44" y1="321.40" x2="217.44" y2="323.80" stroke="#111" stroke-width="0.9"/>
<line x1="224.44" y1="321.40" x2="224.44" y2="323.80" stroke="#111" stroke-width="0.9"/>
<line x1="229.86" y1="321.40" x2="229.86" y2="323.80" stroke="#111" stroke-width="0.9"/>
<line x1="234.29" y1="321.40" x2="234.29" y2="323.80" stroke="#111" stroke-width="0.9"/>
<line x1="238.03" y1="321.40" x2="238.03" y2="323.80" stroke="#111" stroke-width="0.9"/>
<line x1="241.28" y1="321.40" x2="241.28" y2="323.80" stroke="#111" stroke-width="0.9"/>
<line x1="244.14" y1="321.40" x2="244.14" y2="323.80" stroke="#111" stroke-width="0.9"/>
<line x1="246.70" y1="321.40" x2="246.70" y2="325.20" stroke="#111" stroke-width="0.9"/>
<text transform="translate(17.80,323.67) rotate(-90)" font-size="6.573947368421051" fill="#222" stroke="#222" stroke-width="0.15">0</text>
<text transform="translate(17.80,310.24) rotate(-90)" font-size="6.573947368421051" fill="#222" stroke="#222" stroke-width="0.15">10</text>
<text transform="translate(17.80,295.18) rotate(-90)" font-size="6.573947368421051" fill="#222" stroke="#222" stroke-width="0.15">20</text>
<text transform="translate(17.80,280.08) rotate(-90)" font-size="6.573947368421051" fill="#222" stroke="#222" stroke-width="0.15">30</text>
<text transform="translate(17.80,264.99) rotate(-90)" font-size="6.573947368421051" fill="#222" stroke="#222" stroke-width="0.15">40</text>
<text transform="translate(17.80,249.80) rotate(-90)" font-size="6.573947368421051" fill="#222" stroke="#222" stroke-width="0.15">50</text>
<text transform="translate(11.54,285.67) rotate(-90)" font-size="6.97" fill="#222" text-anchor="middle">Counts</text>
<text transform="translate(17.74,333.35) scale(0.800,1.000)" font-size="7.87" font-weight="normal" fill="#111">10</text>
<text transform="translate(24.58,330.36) scale(0.8,1)" font-size="6.97" fill="#222" stroke="#222" stroke-width="0.12">0</text>
<text transform="translate(73.69,333.35) scale(0.800,1.000)" font-size="7.87" font-weight="normal" fill="#111">10</text>
<text transform="translate(80.33,330.36) scale(0.8,1)" font-size="6.97" fill="#222" stroke="#222" stroke-width="0.12">1</text>
<text transform="translate(129.64,333.35) scale(0.800,1.000)" font-size="7.87" font-weight="normal" fill="#111">10</text>
<text transform="translate(136.42,330.36) scale(0.8,1)" font-size="6.97" fill="#222" stroke="#222" stroke-width="0.12">2</text>
<text transform="translate(185.59,333.35) scale(0.800,1.000)" font-size="7.87" font-weight="normal" fill="#111">10</text>
<text transform="translate(192.44,330.36) scale(0.8,1)" font-size="6.97" fill="#222" stroke="#222" stroke-width="0.12">3</text>
<text transform="translate(241.54,333.35) scale(0.800,1.000)" font-size="7.87" font-weight="normal" fill="#111">10</text>
<text transform="translate(248.47,330.36) scale(0.8,1)" font-size="6.97" fill="#222" stroke="#222" stroke-width="0.12">4</text>
<text transform="translate(134.80,339.73) scale(0.9,1)" font-size="6.37" fill="#222" text-anchor="middle">APC</text>
<line x1="287.70" y1="244.00" x2="510.10" y2="244.00" stroke="#3c3c3c" stroke-width="1.15"/>
<line x1="509.60" y1="244.00" x2="509.60" y2="325.00" stroke="#555" stroke-width="1.1"/>
<line x1="287.70" y1="243.50" x2="287.70" y2="325.50" stroke="#777" stroke-width="0.8"/>
<line x1="284.70" y1="325.00" x2="287.70" y2="325.00" stroke="#111" stroke-width="1.0"/>
<line x1="285.70" y1="321.76" x2="287.70" y2="321.76" stroke="#111" stroke-width="1.0"/>
<line x1="285.70" y1="318.52" x2="287.70" y2="318.52" stroke="#111" stroke-width="1.0"/>
<line x1="285.70" y1="315.28" x2="287.70" y2="315.28" stroke="#111" stroke-width="1.0"/>
<line x1="285.70" y1="312.04" x2="287.70" y2="312.04" stroke="#111" stroke-width="1.0"/>
<line x1="284.70" y1="308.80" x2="287.70" y2="308.80" stroke="#111" stroke-width="1.0"/>
<line x1="285.70" y1="305.56" x2="287.70" y2="305.56" stroke="#111" stroke-width="1.0"/>
<line x1="285.70" y1="302.32" x2="287.70" y2="302.32" stroke="#111" stroke-width="1.0"/>
<line x1="285.70" y1="299.08" x2="287.70" y2="299.08" stroke="#111" stroke-width="1.0"/>
<line x1="285.70" y1="295.84" x2="287.70" y2="295.84" stroke="#111" stroke-width="1.0"/>
<line x1="284.70" y1="292.60" x2="287.70" y2="292.60" stroke="#111" stroke-width="1.0"/>
<line x1="285.70" y1="289.36" x2="287.70" y2="289.36" stroke="#111" stroke-width="1.0"/>
<line x1="285.70" y1="286.12" x2="287.70" y2="286.12" stroke="#111" stroke-width="1.0"/>
<line x1="285.70" y1="282.88" x2="287.70" y2="282.88" stroke="#111" stroke-width="1.0"/>
<line x1="285.70" y1="279.64" x2="287.70" y2="279.64" stroke="#111" stroke-width="1.0"/>
<line x1="284.70" y1="276.40" x2="287.70" y2="276.40" stroke="#111" stroke-width="1.0"/>
<line x1="285.70" y1="273.16" x2="287.70" y2="273.16" stroke="#111" stroke-width="1.0"/>
<line x1="285.70" y1="269.92" x2="287.70" y2="269.92" stroke="#111" stroke-width="1.0"/>
<line x1="285.70" y1="266.68" x2="287.70" y2="266.68" stroke="#111" stroke-width="1.0"/>
<line x1="285.70" y1="263.44" x2="287.70" y2="263.44" stroke="#111" stroke-width="1.0"/>
<line x1="284.70" y1="260.20" x2="287.70" y2="260.20" stroke="#111" stroke-width="1.0"/>
<line x1="285.70" y1="256.96" x2="287.70" y2="256.96" stroke="#111" stroke-width="1.0"/>
<line x1="285.70" y1="253.72" x2="287.70" y2="253.72" stroke="#111" stroke-width="1.0"/>
<line x1="285.70" y1="250.48" x2="287.70" y2="250.48" stroke="#111" stroke-width="1.0"/>
<line x1="285.70" y1="247.24" x2="287.70" y2="247.24" stroke="#111" stroke-width="1.0"/>
<line x1="284.70" y1="244.00" x2="287.70" y2="244.00" stroke="#111" stroke-width="1.0"/>
<line x1="287.20" y1="325.00" x2="510.10" y2="325.00" stroke="#000" stroke-width="1.4"/>
<line x1="287.70" y1="325.00" x2="287.70" y2="328.80" stroke="#111" stroke-width="0.9"/>
<line x1="304.40" y1="325.00" x2="304.40" y2="327.40" stroke="#111" stroke-width="0.9"/>
<line x1="314.17" y1="325.00" x2="314.17" y2="327.40" stroke="#111" stroke-width="0.9"/>
<line x1="321.10" y1="325.00" x2="321.10" y2="327.40" stroke="#111" stroke-width="0.9"/>
<line x1="326.48" y1="325.00" x2="326.48" y2="327.40" stroke="#111" stroke-width="0.9"/>
<line x1="330.87" y1="325.00" x2="330.87" y2="327.40" stroke="#111" stroke-width="0.9"/>
<line x1="334.58" y1="325.00" x2="334.58" y2="327.40" stroke="#111" stroke-width="0.9"/>
<line x1="337.80" y1="325.00" x2="337.80" y2="327.40" stroke="#111" stroke-width="0.9"/>
<line x1="340.64" y1="325.00" x2="340.64" y2="327.40" stroke="#111" stroke-width="0.9"/>
<line x1="343.18" y1="325.00" x2="343.18" y2="328.80" stroke="#111" stroke-width="0.9"/>
<line x1="359.87" y1="325.00" x2="359.87" y2="327.40" stroke="#111" stroke-width="0.9"/>
<line x1="369.64" y1="325.00" x2="369.64" y2="327.40" stroke="#111" stroke-width="0.9"/>
<line x1="376.57" y1="325.00" x2="376.57" y2="327.40" stroke="#111" stroke-width="0.9"/>
<line x1="381.95" y1="325.00" x2="381.95" y2="327.40" stroke="#111" stroke-width="0.9"/>
<line x1="386.34" y1="325.00" x2="386.34" y2="327.40" stroke="#111" stroke-width="0.9"/>
<line x1="390.06" y1="325.00" x2="390.06" y2="327.40" stroke="#111" stroke-width="0.9"/>
<line x1="393.27" y1="325.00" x2="393.27" y2="327.40" stroke="#111" stroke-width="0.9"/>
<line x1="396.11" y1="325.00" x2="396.11" y2="327.40" stroke="#111" stroke-width="0.9"/>
<line x1="398.65" y1="325.00" x2="398.65" y2="328.80" stroke="#111" stroke-width="0.9"/>
<line x1="415.35" y1="325.00" x2="415.35" y2="327.40" stroke="#111" stroke-width="0.9"/>
<line x1="425.12" y1="325.00" x2="425.12" y2="327.40" stroke="#111" stroke-width="0.9"/>
<line x1="432.05" y1="325.00" x2="432.05" y2="327.40" stroke="#111" stroke-width="0.9"/>
<line x1="437.43" y1="325.00" x2="437.43" y2="327.40" stroke="#111" stroke-width="0.9"/>
<line x1="441.82" y1="325.00" x2="441.82" y2="327.40" stroke="#111" stroke-width="0.9"/>
<line x1="445.53" y1="325.00" x2="445.53" y2="327.40" stroke="#111" stroke-width="0.9"/>
<line x1="448.75" y1="325.00" x2="448.75" y2="327.40" stroke="#111" stroke-width="0.9"/>
<line x1="451.59" y1="325.00" x2="451.59" y2="327.40" stroke="#111" stroke-width="0.9"/>
<line x1="454.12" y1="325.00" x2="454.12" y2="328.80" stroke="#111" stroke-width="0.9"/>
<line x1="470.82" y1="325.00" x2="470.82" y2="327.40" stroke="#111" stroke-width="0.9"/>
<line x1="480.59" y1="325.00" x2="480.59" y2="327.40" stroke="#111" stroke-width="0.9"/>
<line x1="487.52" y1="325.00" x2="487.52" y2="327.40" stroke="#111" stroke-width="0.9"/>
<line x1="492.90" y1="325.00" x2="492.90" y2="327.40" stroke="#111" stroke-width="0.9"/>
<line x1="497.29" y1="325.00" x2="497.29" y2="327.40" stroke="#111" stroke-width="0.9"/>
<line x1="501.01" y1="325.00" x2="501.01" y2="327.40" stroke="#111" stroke-width="0.9"/>
<line x1="504.22" y1="325.00" x2="504.22" y2="327.40" stroke="#111" stroke-width="0.9"/>
<line x1="507.06" y1="325.00" x2="507.06" y2="327.40" stroke="#111" stroke-width="0.9"/>
<line x1="509.60" y1="325.00" x2="509.60" y2="328.80" stroke="#111" stroke-width="0.9"/>
<text transform="translate(282.60,327.38) rotate(-90)" font-size="7.03421052631579" fill="#222" stroke="#222" stroke-width="0.15">0</text>
<text transform="translate(282.60,313.01) rotate(-90)" font-size="7.03421052631579" fill="#222" stroke="#222" stroke-width="0.15">10</text>
<text transform="translate(282.60,296.90) rotate(-90)" font-size="7.03421052631579" fill="#222" stroke="#222" stroke-width="0.15">20</text>
<text transform="translate(282.60,280.74) rotate(-90)" font-size="7.03421052631579" fill="#222" stroke="#222" stroke-width="0.15">30</text>
<text transform="translate(282.60,264.59) rotate(-90)" font-size="7.03421052631579" fill="#222" stroke="#222" stroke-width="0.15">40</text>
<text transform="translate(282.60,248.33) rotate(-90)" font-size="7.03421052631579" fill="#222" stroke="#222" stroke-width="0.15">50</text>
<text transform="translate(275.55,286.77) rotate(-90)" font-size="7.46" fill="#222" text-anchor="middle">Counts</text>
<text transform="translate(282.07,337.79) scale(0.800,1.000)" font-size="8.42" font-weight="normal" fill="#111">10</text>
<text transform="translate(289.37,334.59) scale(0.8,1)" font-size="7.46" fill="#222" stroke="#222" stroke-width="0.12">0</text>
<text transform="translate(337.55,337.79) scale(0.800,1.000)" font-size="8.42" font-weight="normal" fill="#111">10</text>
<text transform="translate(344.62,334.59) scale(0.8,1)" font-size="7.46" fill="#222" stroke="#222" stroke-width="0.12">1</text>
<text transform="translate(393.02,337.79) scale(0.800,1.000)" font-size="8.42" font-weight="normal" fill="#111">10</text>
<text transform="translate(400.25,334.59) scale(0.8,1)" font-size="7.46" fill="#222" stroke="#222" stroke-width="0.12">2</text>
<text transform="translate(448.50,337.79) scale(0.800,1.000)" font-size="8.42" font-weight="normal" fill="#111">10</text>
<text transform="translate(455.80,334.59) scale(0.8,1)" font-size="7.46" fill="#222" stroke="#222" stroke-width="0.12">3</text>
<text transform="translate(503.97,337.79) scale(0.800,1.000)" font-size="8.42" font-weight="normal" fill="#111">10</text>
<text transform="translate(511.36,334.59) scale(0.8,1)" font-size="7.46" fill="#222" stroke="#222" stroke-width="0.12">4</text>
<text transform="translate(398.65,344.61) scale(0.9,1)" font-size="6.82" fill="#222" text-anchor="middle">ISO -PE</text>
<line x1="30.60" y1="384.60" x2="253.10" y2="384.60" stroke="#3c3c3c" stroke-width="1.15"/>
<line x1="252.60" y1="384.60" x2="252.60" y2="465.40" stroke="#555" stroke-width="1.1"/>
<line x1="30.60" y1="384.10" x2="30.60" y2="465.90" stroke="#777" stroke-width="0.8"/>
<line x1="27.60" y1="465.40" x2="30.60" y2="465.40" stroke="#111" stroke-width="1.0"/>
<line x1="28.60" y1="462.17" x2="30.60" y2="462.17" stroke="#111" stroke-width="1.0"/>
<line x1="28.60" y1="458.94" x2="30.60" y2="458.94" stroke="#111" stroke-width="1.0"/>
<line x1="28.60" y1="455.70" x2="30.60" y2="455.70" stroke="#111" stroke-width="1.0"/>
<line x1="28.60" y1="452.47" x2="30.60" y2="452.47" stroke="#111" stroke-width="1.0"/>
<line x1="27.60" y1="449.24" x2="30.60" y2="449.24" stroke="#111" stroke-width="1.0"/>
<line x1="28.60" y1="446.01" x2="30.60" y2="446.01" stroke="#111" stroke-width="1.0"/>
<line x1="28.60" y1="442.78" x2="30.60" y2="442.78" stroke="#111" stroke-width="1.0"/>
<line x1="28.60" y1="439.54" x2="30.60" y2="439.54" stroke="#111" stroke-width="1.0"/>
<line x1="28.60" y1="436.31" x2="30.60" y2="436.31" stroke="#111" stroke-width="1.0"/>
<line x1="27.60" y1="433.08" x2="30.60" y2="433.08" stroke="#111" stroke-width="1.0"/>
<line x1="28.60" y1="429.85" x2="30.60" y2="429.85" stroke="#111" stroke-width="1.0"/>
<line x1="28.60" y1="426.62" x2="30.60" y2="426.62" stroke="#111" stroke-width="1.0"/>
<line x1="28.60" y1="423.38" x2="30.60" y2="423.38" stroke="#111" stroke-width="1.0"/>
<line x1="28.60" y1="420.15" x2="30.60" y2="420.15" stroke="#111" stroke-width="1.0"/>
<line x1="27.60" y1="416.92" x2="30.60" y2="416.92" stroke="#111" stroke-width="1.0"/>
<line x1="28.60" y1="413.69" x2="30.60" y2="413.69" stroke="#111" stroke-width="1.0"/>
<line x1="28.60" y1="410.46" x2="30.60" y2="410.46" stroke="#111" stroke-width="1.0"/>
<line x1="28.60" y1="407.22" x2="30.60" y2="407.22" stroke="#111" stroke-width="1.0"/>
<line x1="28.60" y1="403.99" x2="30.60" y2="403.99" stroke="#111" stroke-width="1.0"/>
<line x1="27.60" y1="400.76" x2="30.60" y2="400.76" stroke="#111" stroke-width="1.0"/>
<line x1="28.60" y1="397.53" x2="30.60" y2="397.53" stroke="#111" stroke-width="1.0"/>
<line x1="28.60" y1="394.30" x2="30.60" y2="394.30" stroke="#111" stroke-width="1.0"/>
<line x1="28.60" y1="391.06" x2="30.60" y2="391.06" stroke="#111" stroke-width="1.0"/>
<line x1="28.60" y1="387.83" x2="30.60" y2="387.83" stroke="#111" stroke-width="1.0"/>
<line x1="27.60" y1="384.60" x2="30.60" y2="384.60" stroke="#111" stroke-width="1.0"/>
<line x1="30.10" y1="465.40" x2="253.10" y2="465.40" stroke="#000" stroke-width="1.4"/>
<line x1="30.60" y1="465.40" x2="30.60" y2="469.20" stroke="#111" stroke-width="0.9"/>
<line x1="47.31" y1="465.40" x2="47.31" y2="467.80" stroke="#111" stroke-width="0.9"/>
<line x1="57.08" y1="465.40" x2="57.08" y2="467.80" stroke="#111" stroke-width="0.9"/>
<line x1="64.01" y1="465.40" x2="64.01" y2="467.80" stroke="#111" stroke-width="0.9"/>
<line x1="69.39" y1="465.40" x2="69.39" y2="467.80" stroke="#111" stroke-width="0.9"/>
<line x1="73.79" y1="465.40" x2="73.79" y2="467.80" stroke="#111" stroke-width="0.9"/>
<line x1="77.50" y1="465.40" x2="77.50" y2="467.80" stroke="#111" stroke-width="0.9"/>
<line x1="80.72" y1="465.40" x2="80.72" y2="467.80" stroke="#111" stroke-width="0.9"/>
<line x1="83.56" y1="465.40" x2="83.56" y2="467.80" stroke="#111" stroke-width="0.9"/>
<line x1="86.10" y1="465.40" x2="86.10" y2="469.20" stroke="#111" stroke-width="0.9"/>
<line x1="102.81" y1="465.40" x2="102.81" y2="467.80" stroke="#111" stroke-width="0.9"/>
<line x1="112.58" y1="465.40" x2="112.58" y2="467.80" stroke="#111" stroke-width="0.9"/>
<line x1="119.51" y1="465.40" x2="119.51" y2="467.80" stroke="#111" stroke-width="0.9"/>
<line x1="124.89" y1="465.40" x2="124.89" y2="467.80" stroke="#111" stroke-width="0.9"/>
<line x1="129.29" y1="465.40" x2="129.29" y2="467.80" stroke="#111" stroke-width="0.9"/>
<line x1="133.00" y1="465.40" x2="133.00" y2="467.80" stroke="#111" stroke-width="0.9"/>
<line x1="136.22" y1="465.40" x2="136.22" y2="467.80" stroke="#111" stroke-width="0.9"/>
<line x1="139.06" y1="465.40" x2="139.06" y2="467.80" stroke="#111" stroke-width="0.9"/>
<line x1="141.60" y1="465.40" x2="141.60" y2="469.20" stroke="#111" stroke-width="0.9"/>
<line x1="158.31" y1="465.40" x2="158.31" y2="467.80" stroke="#111" stroke-width="0.9"/>
<line x1="168.08" y1="465.40" x2="168.08" y2="467.80" stroke="#111" stroke-width="0.9"/>
<line x1="175.01" y1="465.40" x2="175.01" y2="467.80" stroke="#111" stroke-width="0.9"/>
<line x1="180.39" y1="465.40" x2="180.39" y2="467.80" stroke="#111" stroke-width="0.9"/>
<line x1="184.79" y1="465.40" x2="184.79" y2="467.80" stroke="#111" stroke-width="0.9"/>
<line x1="188.50" y1="465.40" x2="188.50" y2="467.80" stroke="#111" stroke-width="0.9"/>
<line x1="191.72" y1="465.40" x2="191.72" y2="467.80" stroke="#111" stroke-width="0.9"/>
<line x1="194.56" y1="465.40" x2="194.56" y2="467.80" stroke="#111" stroke-width="0.9"/>
<line x1="197.10" y1="465.40" x2="197.10" y2="469.20" stroke="#111" stroke-width="0.9"/>
<line x1="213.81" y1="465.40" x2="213.81" y2="467.80" stroke="#111" stroke-width="0.9"/>
<line x1="223.58" y1="465.40" x2="223.58" y2="467.80" stroke="#111" stroke-width="0.9"/>
<line x1="230.51" y1="465.40" x2="230.51" y2="467.80" stroke="#111" stroke-width="0.9"/>
<line x1="235.89" y1="465.40" x2="235.89" y2="467.80" stroke="#111" stroke-width="0.9"/>
<line x1="240.29" y1="465.40" x2="240.29" y2="467.80" stroke="#111" stroke-width="0.9"/>
<line x1="244.00" y1="465.40" x2="244.00" y2="467.80" stroke="#111" stroke-width="0.9"/>
<line x1="247.22" y1="465.40" x2="247.22" y2="467.80" stroke="#111" stroke-width="0.9"/>
<line x1="250.06" y1="465.40" x2="250.06" y2="467.80" stroke="#111" stroke-width="0.9"/>
<line x1="252.60" y1="465.40" x2="252.60" y2="469.20" stroke="#111" stroke-width="0.9"/>
<text transform="translate(25.50,467.78) rotate(-90)" font-size="7.016842105263153" fill="#222" stroke="#222" stroke-width="0.15">0</text>
<text transform="translate(25.50,453.44) rotate(-90)" font-size="7.016842105263153" fill="#222" stroke="#222" stroke-width="0.15">10</text>
<text transform="translate(25.50,437.37) rotate(-90)" font-size="7.016842105263153" fill="#222" stroke="#222" stroke-width="0.15">20</text>
<text transform="translate(25.50,421.25) rotate(-90)" font-size="7.016842105263153" fill="#222" stroke="#222" stroke-width="0.15">30</text>
<text transform="translate(25.50,405.14) rotate(-90)" font-size="7.016842105263153" fill="#222" stroke="#222" stroke-width="0.15">40</text>
<text transform="translate(25.50,388.92) rotate(-90)" font-size="7.016842105263153" fill="#222" stroke="#222" stroke-width="0.15">50</text>
<text transform="translate(18.48,427.26) rotate(-90)" font-size="7.44" fill="#222" text-anchor="middle">Counts</text>
<text transform="translate(24.99,478.16) scale(0.800,1.000)" font-size="8.40" font-weight="normal" fill="#111">10</text>
<text transform="translate(32.27,474.97) scale(0.8,1)" font-size="7.44" fill="#222" stroke="#222" stroke-width="0.12">0</text>
<text transform="translate(80.49,478.16) scale(0.800,1.000)" font-size="8.40" font-weight="normal" fill="#111">10</text>
<text transform="translate(87.55,474.97) scale(0.8,1)" font-size="7.44" fill="#222" stroke="#222" stroke-width="0.12">1</text>
<text transform="translate(135.99,478.16) scale(0.800,1.000)" font-size="8.40" font-weight="normal" fill="#111">10</text>
<text transform="translate(143.20,474.97) scale(0.8,1)" font-size="7.44" fill="#222" stroke="#222" stroke-width="0.12">2</text>
<text transform="translate(191.49,478.16) scale(0.800,1.000)" font-size="8.40" font-weight="normal" fill="#111">10</text>
<text transform="translate(198.77,474.97) scale(0.8,1)" font-size="7.44" fill="#222" stroke="#222" stroke-width="0.12">3</text>
<text transform="translate(246.99,478.16) scale(0.800,1.000)" font-size="8.40" font-weight="normal" fill="#111">10</text>
<text transform="translate(254.36,474.97) scale(0.8,1)" font-size="7.44" fill="#222" stroke="#222" stroke-width="0.12">4</text>
<text transform="translate(141.60,484.96) scale(0.9,1)" font-size="6.80" fill="#222" text-anchor="middle">APC</text>
<line x1="289.70" y1="384.00" x2="513.60" y2="384.00" stroke="#3c3c3c" stroke-width="1.15"/>
<line x1="513.10" y1="384.00" x2="513.10" y2="467.60" stroke="#555" stroke-width="1.1"/>
<line x1="289.70" y1="383.50" x2="289.70" y2="468.10" stroke="#777" stroke-width="0.8"/>
<line x1="286.70" y1="467.60" x2="289.70" y2="467.60" stroke="#111" stroke-width="1.0"/>
<line x1="287.70" y1="464.26" x2="289.70" y2="464.26" stroke="#111" stroke-width="1.0"/>
<line x1="287.70" y1="460.91" x2="289.70" y2="460.91" stroke="#111" stroke-width="1.0"/>
<line x1="287.70" y1="457.57" x2="289.70" y2="457.57" stroke="#111" stroke-width="1.0"/>
<line x1="287.70" y1="454.22" x2="289.70" y2="454.22" stroke="#111" stroke-width="1.0"/>
<line x1="286.70" y1="450.88" x2="289.70" y2="450.88" stroke="#111" stroke-width="1.0"/>
<line x1="287.70" y1="447.54" x2="289.70" y2="447.54" stroke="#111" stroke-width="1.0"/>
<line x1="287.70" y1="444.19" x2="289.70" y2="444.19" stroke="#111" stroke-width="1.0"/>
<line x1="287.70" y1="440.85" x2="289.70" y2="440.85" stroke="#111" stroke-width="1.0"/>
<line x1="287.70" y1="437.50" x2="289.70" y2="437.50" stroke="#111" stroke-width="1.0"/>
<line x1="286.70" y1="434.16" x2="289.70" y2="434.16" stroke="#111" stroke-width="1.0"/>
<line x1="287.70" y1="430.82" x2="289.70" y2="430.82" stroke="#111" stroke-width="1.0"/>
<line x1="287.70" y1="427.47" x2="289.70" y2="427.47" stroke="#111" stroke-width="1.0"/>
<line x1="287.70" y1="424.13" x2="289.70" y2="424.13" stroke="#111" stroke-width="1.0"/>
<line x1="287.70" y1="420.78" x2="289.70" y2="420.78" stroke="#111" stroke-width="1.0"/>
<line x1="286.70" y1="417.44" x2="289.70" y2="417.44" stroke="#111" stroke-width="1.0"/>
<line x1="287.70" y1="414.10" x2="289.70" y2="414.10" stroke="#111" stroke-width="1.0"/>
<line x1="287.70" y1="410.75" x2="289.70" y2="410.75" stroke="#111" stroke-width="1.0"/>
<line x1="287.70" y1="407.41" x2="289.70" y2="407.41" stroke="#111" stroke-width="1.0"/>
<line x1="287.70" y1="404.06" x2="289.70" y2="404.06" stroke="#111" stroke-width="1.0"/>
<line x1="286.70" y1="400.72" x2="289.70" y2="400.72" stroke="#111" stroke-width="1.0"/>
<line x1="287.70" y1="397.38" x2="289.70" y2="397.38" stroke="#111" stroke-width="1.0"/>
<line x1="287.70" y1="394.03" x2="289.70" y2="394.03" stroke="#111" stroke-width="1.0"/>
<line x1="287.70" y1="390.69" x2="289.70" y2="390.69" stroke="#111" stroke-width="1.0"/>
<line x1="287.70" y1="387.34" x2="289.70" y2="387.34" stroke="#111" stroke-width="1.0"/>
<line x1="286.70" y1="384.00" x2="289.70" y2="384.00" stroke="#111" stroke-width="1.0"/>
<line x1="289.20" y1="467.60" x2="513.60" y2="467.60" stroke="#000" stroke-width="1.4"/>
<line x1="289.70" y1="467.60" x2="289.70" y2="471.40" stroke="#111" stroke-width="0.9"/>
<line x1="306.51" y1="467.60" x2="306.51" y2="470.00" stroke="#111" stroke-width="0.9"/>
<line x1="316.35" y1="467.60" x2="316.35" y2="470.00" stroke="#111" stroke-width="0.9"/>
<line x1="323.33" y1="467.60" x2="323.33" y2="470.00" stroke="#111" stroke-width="0.9"/>
<line x1="328.74" y1="467.60" x2="328.74" y2="470.00" stroke="#111" stroke-width="0.9"/>
<line x1="333.16" y1="467.60" x2="333.16" y2="470.00" stroke="#111" stroke-width="0.9"/>
<line x1="336.90" y1="467.60" x2="336.90" y2="470.00" stroke="#111" stroke-width="0.9"/>
<line x1="340.14" y1="467.60" x2="340.14" y2="470.00" stroke="#111" stroke-width="0.9"/>
<line x1="342.99" y1="467.60" x2="342.99" y2="470.00" stroke="#111" stroke-width="0.9"/>
<line x1="345.55" y1="467.60" x2="345.55" y2="471.40" stroke="#111" stroke-width="0.9"/>
<line x1="362.36" y1="467.60" x2="362.36" y2="470.00" stroke="#111" stroke-width="0.9"/>
<line x1="372.20" y1="467.60" x2="372.20" y2="470.00" stroke="#111" stroke-width="0.9"/>
<line x1="379.18" y1="467.60" x2="379.18" y2="470.00" stroke="#111" stroke-width="0.9"/>
<line x1="384.59" y1="467.60" x2="384.59" y2="470.00" stroke="#111" stroke-width="0.9"/>
<line x1="389.01" y1="467.60" x2="389.01" y2="470.00" stroke="#111" stroke-width="0.9"/>
<line x1="392.75" y1="467.60" x2="392.75" y2="470.00" stroke="#111" stroke-width="0.9"/>
<line x1="395.99" y1="467.60" x2="395.99" y2="470.00" stroke="#111" stroke-width="0.9"/>
<line x1="398.84" y1="467.60" x2="398.84" y2="470.00" stroke="#111" stroke-width="0.9"/>
<line x1="401.40" y1="467.60" x2="401.40" y2="471.40" stroke="#111" stroke-width="0.9"/>
<line x1="418.21" y1="467.60" x2="418.21" y2="470.00" stroke="#111" stroke-width="0.9"/>
<line x1="428.05" y1="467.60" x2="428.05" y2="470.00" stroke="#111" stroke-width="0.9"/>
<line x1="435.03" y1="467.60" x2="435.03" y2="470.00" stroke="#111" stroke-width="0.9"/>
<line x1="440.44" y1="467.60" x2="440.44" y2="470.00" stroke="#111" stroke-width="0.9"/>
<line x1="444.86" y1="467.60" x2="444.86" y2="470.00" stroke="#111" stroke-width="0.9"/>
<line x1="448.60" y1="467.60" x2="448.60" y2="470.00" stroke="#111" stroke-width="0.9"/>
<line x1="451.84" y1="467.60" x2="451.84" y2="470.00" stroke="#111" stroke-width="0.9"/>
<line x1="454.69" y1="467.60" x2="454.69" y2="470.00" stroke="#111" stroke-width="0.9"/>
<line x1="457.25" y1="467.60" x2="457.25" y2="471.40" stroke="#111" stroke-width="0.9"/>
<line x1="474.06" y1="467.60" x2="474.06" y2="470.00" stroke="#111" stroke-width="0.9"/>
<line x1="483.90" y1="467.60" x2="483.90" y2="470.00" stroke="#111" stroke-width="0.9"/>
<line x1="490.88" y1="467.60" x2="490.88" y2="470.00" stroke="#111" stroke-width="0.9"/>
<line x1="496.29" y1="467.60" x2="496.29" y2="470.00" stroke="#111" stroke-width="0.9"/>
<line x1="500.71" y1="467.60" x2="500.71" y2="470.00" stroke="#111" stroke-width="0.9"/>
<line x1="504.45" y1="467.60" x2="504.45" y2="470.00" stroke="#111" stroke-width="0.9"/>
<line x1="507.69" y1="467.60" x2="507.69" y2="470.00" stroke="#111" stroke-width="0.9"/>
<line x1="510.54" y1="467.60" x2="510.54" y2="470.00" stroke="#111" stroke-width="0.9"/>
<line x1="513.10" y1="467.60" x2="513.10" y2="471.40" stroke="#111" stroke-width="0.9"/>
<text transform="translate(284.60,470.04) rotate(-90)" font-size="7.260000000000002" fill="#222" stroke="#222" stroke-width="0.15">0</text>
<text transform="translate(284.60,455.20) rotate(-90)" font-size="7.260000000000002" fill="#222" stroke="#222" stroke-width="0.15">10</text>
<text transform="translate(284.60,438.57) rotate(-90)" font-size="7.260000000000002" fill="#222" stroke="#222" stroke-width="0.15">20</text>
<text transform="translate(284.60,421.90) rotate(-90)" font-size="7.260000000000002" fill="#222" stroke="#222" stroke-width="0.15">30</text>
<text transform="translate(284.60,405.23) rotate(-90)" font-size="7.260000000000002" fill="#222" stroke="#222" stroke-width="0.15">40</text>
<text transform="translate(284.60,388.45) rotate(-90)" font-size="7.260000000000002" fill="#222" stroke="#222" stroke-width="0.15">50</text>
<text transform="translate(277.16,428.14) rotate(-90)" font-size="7.70" fill="#222" text-anchor="middle">Counts</text>
<text transform="translate(283.84,480.80) scale(0.800,1.000)" font-size="8.69" font-weight="normal" fill="#111">10</text>
<text transform="translate(291.36,477.50) scale(0.8,1)" font-size="7.70" fill="#222" stroke="#222" stroke-width="0.12">0</text>
<text transform="translate(339.69,480.80) scale(0.800,1.000)" font-size="8.69" font-weight="normal" fill="#111">10</text>
<text transform="translate(346.98,477.50) scale(0.8,1)" font-size="7.70" fill="#222" stroke="#222" stroke-width="0.12">1</text>
<text transform="translate(395.54,480.80) scale(0.800,1.000)" font-size="8.69" font-weight="normal" fill="#111">10</text>
<text transform="translate(402.99,477.50) scale(0.8,1)" font-size="7.70" fill="#222" stroke="#222" stroke-width="0.12">2</text>
<text transform="translate(451.39,480.80) scale(0.800,1.000)" font-size="8.69" font-weight="normal" fill="#111">10</text>
<text transform="translate(458.92,477.50) scale(0.8,1)" font-size="7.70" fill="#222" stroke="#222" stroke-width="0.12">3</text>
<text transform="translate(507.24,480.80) scale(0.800,1.000)" font-size="8.69" font-weight="normal" fill="#111">10</text>
<text transform="translate(514.86,477.50) scale(0.8,1)" font-size="7.70" fill="#222" stroke="#222" stroke-width="0.12">4</text>
<text transform="translate(401.40,487.84) scale(0.9,1)" font-size="7.04" fill="#222" text-anchor="middle">ISO -PE</text>
<text transform="translate(43.78,133.30) scale(1,1.020)" font-size="13.25" font-weight="normal" fill="#000" stroke="#000" stroke-width="0.22">Iso</text>
<text transform="translate(143.75,133.70) scale(1,0.987)" font-size="12.81" font-weight="normal" fill="#000" stroke="#000" stroke-width="0.22">Resting 66%</text>
<line x1="117.50" y1="130.60" x2="117.50" y2="143.80" stroke="#111" stroke-width="1.1"/>
<line x1="117.50" y1="137.20" x2="243.80" y2="137.20" stroke="#111" stroke-width="1.5"/>
<line x1="243.30" y1="131.30" x2="243.30" y2="144.00" stroke="#222" stroke-width="1.4"/>
<text transform="translate(180.25,145.70) scale(1,1.176)" font-size="6.68" font-weight="normal" fill="#111" stroke="#111" stroke-width="0.1">M1</text>
<text transform="translate(307.38,134.50) scale(1,1.004)" font-size="13.17" font-weight="normal" fill="#000" stroke="#000" stroke-width="0.22">Iso</text>
<text transform="translate(431.66,118.90) scale(1,1.021)" font-size="12.67" font-weight="normal" fill="#000" stroke="#000" stroke-width="0.22">Resting</text>
<text transform="translate(440.10,134.80) scale(1,1.004)" font-size="12.88" font-weight="normal" fill="#000" stroke="#000" stroke-width="0.22">0.7%</text>
<line x1="392.70" y1="129.80" x2="392.70" y2="143.30" stroke="#3a3a3a" stroke-width="1.1"/>
<line x1="392.70" y1="136.40" x2="505.70" y2="136.40" stroke="#3a3a3a" stroke-width="1.15"/>
<text transform="translate(448.70,144.20) scale(1,1.140)" font-size="6.12" font-weight="normal" fill="#111" stroke="#111" stroke-width="0.1">M1</text>
<text transform="translate(50.54,272.10) scale(1,0.946)" font-size="13.67" font-weight="normal" fill="#000" stroke="#000" stroke-width="0.22">Iso</text>
<text transform="translate(113.54,265.50) scale(1,1.008)" font-size="12.97" font-weight="normal" fill="#000" stroke="#000" stroke-width="0.22">Low Responder 73%</text>
<line x1="119.40" y1="267.00" x2="119.40" y2="277.70" stroke="#3a3a3a" stroke-width="1.1"/>
<line x1="119.40" y1="270.40" x2="250.80" y2="270.40" stroke="#3a3a3a" stroke-width="1.15"/>
<line x1="250.80" y1="264.40" x2="250.80" y2="277.10" stroke="#222" stroke-width="1.4"/>
<text transform="translate(184.23,279.00) scale(1,1.093)" font-size="6.91" font-weight="normal" fill="#111" stroke="#111" stroke-width="0.1">M1</text>
<text transform="translate(307.52,273.10) scale(1,1.026)" font-size="12.75" font-weight="normal" fill="#000" stroke="#000" stroke-width="0.22">Iso</text>
<text transform="translate(396.94,287.80) scale(1,1.012)" font-size="12.93" font-weight="normal" fill="#000" stroke="#000" stroke-width="0.22">Low Responder 4%</text>
<line x1="393.50" y1="253.80" x2="393.50" y2="268.50" stroke="#3a3a3a" stroke-width="1.1"/>
<line x1="393.50" y1="261.20" x2="509.60" y2="261.20" stroke="#3a3a3a" stroke-width="1.15"/>
<text transform="translate(451.50,269.40) scale(1,1.140)" font-size="6.12" font-weight="normal" fill="#111" stroke="#111" stroke-width="0.1">M1</text>
<text transform="translate(58.00,413.10) scale(1,1.006)" font-size="13.00" font-weight="normal" fill="#000" stroke="#000" stroke-width="0.22">Iso</text>
<text transform="translate(172.46,400.40) scale(1,1.021)" font-size="12.67" font-weight="normal" fill="#000" stroke="#000" stroke-width="0.22">High</text>
<text transform="translate(141.25,415.50) scale(1,0.976)" font-size="12.80" font-weight="normal" fill="#000" stroke="#000" stroke-width="0.22">Responder 96%</text>
<line x1="124.00" y1="417.70" x2="124.00" y2="431.20" stroke="#3a3a3a" stroke-width="1.1"/>
<line x1="124.00" y1="424.40" x2="260.00" y2="424.40" stroke="#3a3a3a" stroke-width="1.15"/>
<text transform="translate(213.42,432.70) scale(1,1.027)" font-size="5.80" font-weight="normal" fill="#111" stroke="#111" stroke-width="0.1">M1</text>
<text transform="translate(314.90,410.70) scale(1,0.972)" font-size="13.00" font-weight="normal" fill="#000" stroke="#000" stroke-width="0.22">Iso</text>
<text transform="translate(420.17,399.60) scale(1,1.080)" font-size="12.52" font-weight="normal" fill="#000" stroke="#000" stroke-width="0.22">High</text>
<text transform="translate(388.24,414.80) scale(1,1.034)" font-size="12.93" font-weight="normal" fill="#000" stroke="#000" stroke-width="0.22">Responder 77%</text>
<line x1="383.25" y1="408.75" x2="383.25" y2="422.50" stroke="#3a3a3a" stroke-width="1.1"/>
<line x1="383.25" y1="416.20" x2="512.90" y2="416.20" stroke="#3a3a3a" stroke-width="1.15"/>
<line x1="512.80" y1="409.20" x2="512.80" y2="422.70" stroke="#222" stroke-width="1.4"/>
<text transform="translate(448.26,425.75) scale(1,1.200)" font-size="5.96" font-weight="normal" fill="#111" stroke="#111" stroke-width="0.1">M1</text>
</svg>
</body></html>
